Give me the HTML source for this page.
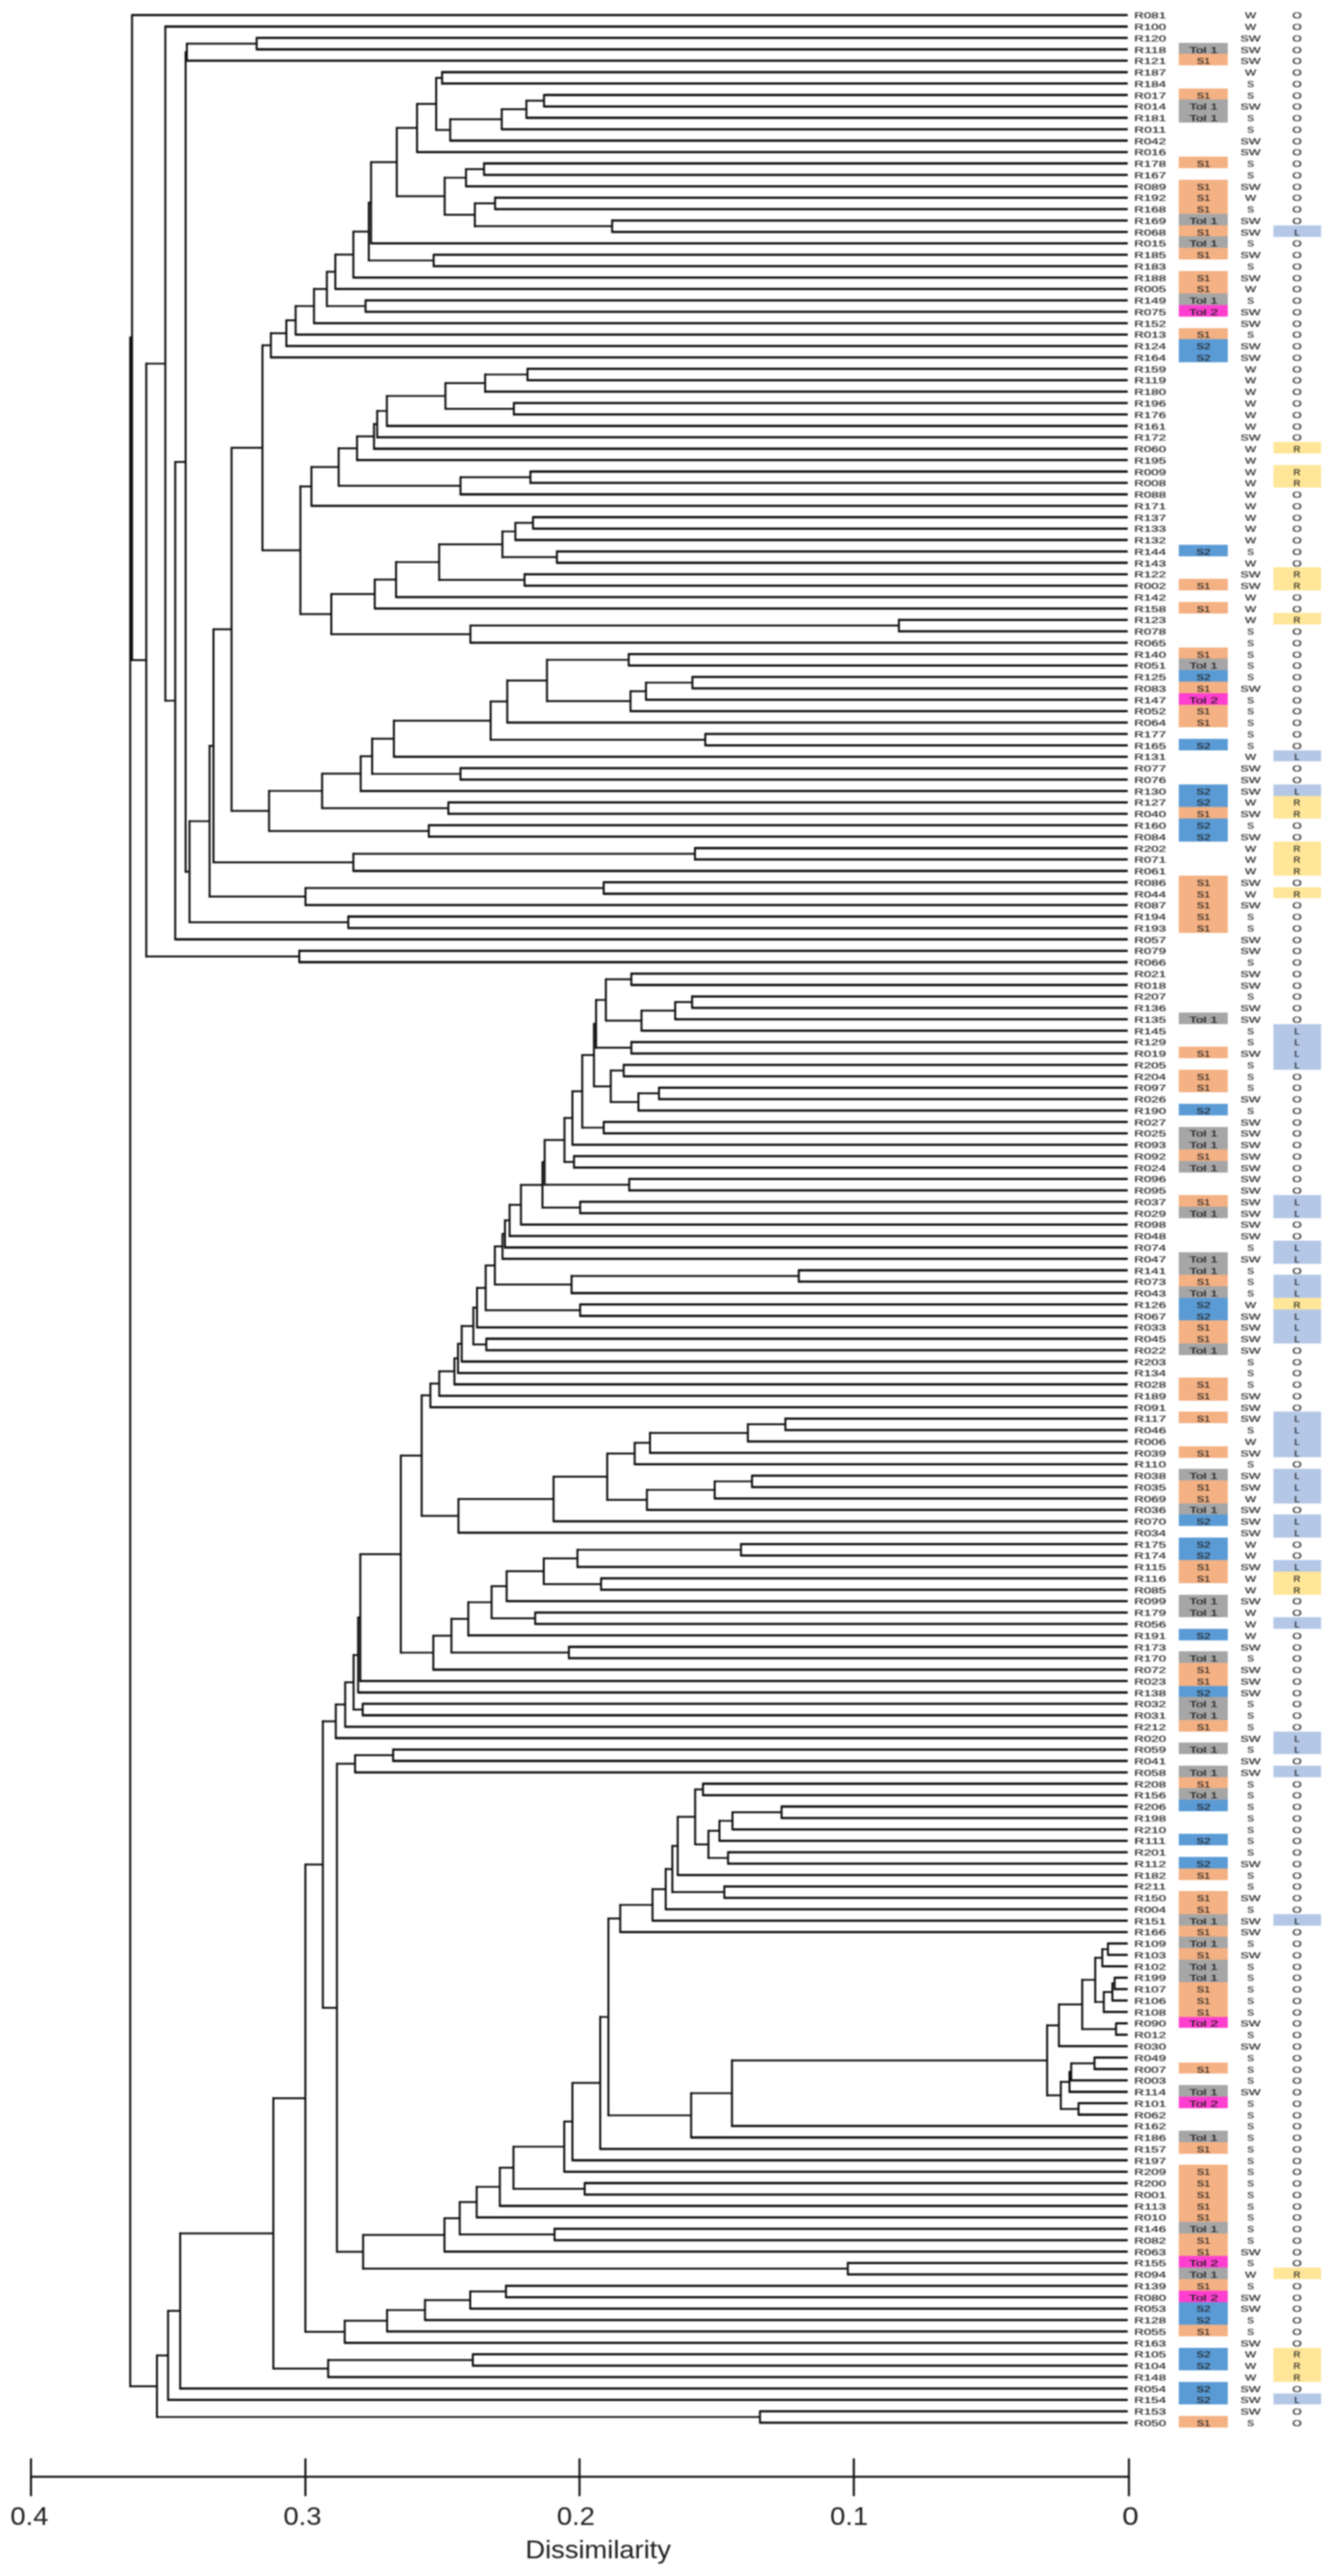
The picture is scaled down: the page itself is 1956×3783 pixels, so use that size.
<!DOCTYPE html>
<html lang="en"><head><meta charset="utf-8"><title>Dendrogram</title>
<style>html,body{margin:0;padding:0;background:#fff}svg{display:block;filter:blur(0.8px)}text{font-family:"Liberation Sans",sans-serif;fill:#1c1c1c}.t{font-size:13.2px;stroke:#1c1c1c;stroke-width:0.22px}.ax{font-size:36.5px;fill:#1e1e1e}</style></head><body>
<svg width="1956" height="3783" viewBox="0 0 1956 3783">
<rect width="1956" height="3783" fill="#fff"/>
<g shape-rendering="crispEdges"><rect x="1730.6" y="62.6" width="72.2" height="16.8" fill="#A6A6A6"/><rect x="1730.6" y="79.3" width="72.2" height="16.8" fill="#F4B183"/><rect x="1730.6" y="129.6" width="72.2" height="16.8" fill="#F4B183"/><rect x="1730.6" y="146.4" width="72.2" height="33.5" fill="#A6A6A6"/><rect x="1730.6" y="230.1" width="72.2" height="16.8" fill="#F4B183"/><rect x="1730.6" y="263.7" width="72.2" height="50.3" fill="#F4B183"/><rect x="1730.6" y="313.9" width="72.2" height="16.8" fill="#A6A6A6"/><rect x="1730.6" y="330.7" width="72.2" height="16.8" fill="#F4B183"/><rect x="1730.6" y="347.4" width="72.2" height="16.8" fill="#A6A6A6"/><rect x="1730.6" y="364.2" width="72.2" height="16.8" fill="#F4B183"/><rect x="1730.6" y="397.7" width="72.2" height="33.5" fill="#F4B183"/><rect x="1730.6" y="431.2" width="72.2" height="16.8" fill="#A6A6A6"/><rect x="1730.6" y="448.0" width="72.2" height="16.8" fill="#FF3FCF"/><rect x="1730.6" y="481.5" width="72.2" height="16.8" fill="#F4B183"/><rect x="1730.6" y="498.3" width="72.2" height="33.5" fill="#5B9BD5"/><rect x="1730.6" y="799.9" width="72.2" height="16.8" fill="#5B9BD5"/><rect x="1730.6" y="850.2" width="72.2" height="16.8" fill="#F4B183"/><rect x="1730.6" y="883.7" width="72.2" height="16.8" fill="#F4B183"/><rect x="1730.6" y="950.7" width="72.2" height="16.8" fill="#F4B183"/><rect x="1730.6" y="967.4" width="72.2" height="16.8" fill="#A6A6A6"/><rect x="1730.6" y="984.2" width="72.2" height="16.8" fill="#5B9BD5"/><rect x="1730.6" y="1001.0" width="72.2" height="16.8" fill="#F4B183"/><rect x="1730.6" y="1017.7" width="72.2" height="16.8" fill="#FF3FCF"/><rect x="1730.6" y="1034.5" width="72.2" height="33.5" fill="#F4B183"/><rect x="1730.6" y="1084.7" width="72.2" height="16.8" fill="#5B9BD5"/><rect x="1730.6" y="1151.8" width="72.2" height="33.5" fill="#5B9BD5"/><rect x="1730.6" y="1185.3" width="72.2" height="16.8" fill="#F4B183"/><rect x="1730.6" y="1202.0" width="72.2" height="33.5" fill="#5B9BD5"/><rect x="1730.6" y="1285.8" width="72.2" height="83.8" fill="#F4B183"/><rect x="1730.6" y="1486.9" width="72.2" height="16.8" fill="#A6A6A6"/><rect x="1730.6" y="1537.2" width="72.2" height="16.8" fill="#F4B183"/><rect x="1730.6" y="1570.7" width="72.2" height="33.5" fill="#F4B183"/><rect x="1730.6" y="1621.0" width="72.2" height="16.8" fill="#5B9BD5"/><rect x="1730.6" y="1654.5" width="72.2" height="33.5" fill="#A6A6A6"/><rect x="1730.6" y="1688.0" width="72.2" height="16.8" fill="#F4B183"/><rect x="1730.6" y="1704.8" width="72.2" height="16.8" fill="#A6A6A6"/><rect x="1730.6" y="1755.0" width="72.2" height="16.8" fill="#F4B183"/><rect x="1730.6" y="1771.8" width="72.2" height="16.8" fill="#A6A6A6"/><rect x="1730.6" y="1838.8" width="72.2" height="33.5" fill="#A6A6A6"/><rect x="1730.6" y="1872.3" width="72.2" height="16.8" fill="#F4B183"/><rect x="1730.6" y="1889.1" width="72.2" height="16.8" fill="#A6A6A6"/><rect x="1730.6" y="1905.8" width="72.2" height="33.5" fill="#5B9BD5"/><rect x="1730.6" y="1939.4" width="72.2" height="33.5" fill="#F4B183"/><rect x="1730.6" y="1972.9" width="72.2" height="16.8" fill="#A6A6A6"/><rect x="1730.6" y="2023.1" width="72.2" height="33.5" fill="#F4B183"/><rect x="1730.6" y="2073.4" width="72.2" height="16.8" fill="#F4B183"/><rect x="1730.6" y="2123.7" width="72.2" height="16.8" fill="#F4B183"/><rect x="1730.6" y="2157.2" width="72.2" height="16.8" fill="#A6A6A6"/><rect x="1730.6" y="2174.0" width="72.2" height="33.5" fill="#F4B183"/><rect x="1730.6" y="2207.5" width="72.2" height="16.8" fill="#A6A6A6"/><rect x="1730.6" y="2224.2" width="72.2" height="16.8" fill="#5B9BD5"/><rect x="1730.6" y="2257.7" width="72.2" height="33.5" fill="#5B9BD5"/><rect x="1730.6" y="2291.3" width="72.2" height="33.5" fill="#F4B183"/><rect x="1730.6" y="2341.5" width="72.2" height="33.5" fill="#A6A6A6"/><rect x="1730.6" y="2391.8" width="72.2" height="16.8" fill="#5B9BD5"/><rect x="1730.6" y="2425.3" width="72.2" height="16.8" fill="#A6A6A6"/><rect x="1730.6" y="2442.1" width="72.2" height="33.5" fill="#F4B183"/><rect x="1730.6" y="2475.6" width="72.2" height="16.8" fill="#5B9BD5"/><rect x="1730.6" y="2492.3" width="72.2" height="33.5" fill="#A6A6A6"/><rect x="1730.6" y="2525.8" width="72.2" height="16.8" fill="#F4B183"/><rect x="1730.6" y="2559.4" width="72.2" height="16.8" fill="#A6A6A6"/><rect x="1730.6" y="2592.9" width="72.2" height="16.8" fill="#A6A6A6"/><rect x="1730.6" y="2609.6" width="72.2" height="16.8" fill="#F4B183"/><rect x="1730.6" y="2626.4" width="72.2" height="16.8" fill="#A6A6A6"/><rect x="1730.6" y="2643.1" width="72.2" height="16.8" fill="#5B9BD5"/><rect x="1730.6" y="2693.4" width="72.2" height="16.8" fill="#5B9BD5"/><rect x="1730.6" y="2726.9" width="72.2" height="16.8" fill="#5B9BD5"/><rect x="1730.6" y="2743.7" width="72.2" height="16.8" fill="#F4B183"/><rect x="1730.6" y="2777.2" width="72.2" height="33.5" fill="#F4B183"/><rect x="1730.6" y="2810.7" width="72.2" height="16.8" fill="#A6A6A6"/><rect x="1730.6" y="2827.5" width="72.2" height="16.8" fill="#F4B183"/><rect x="1730.6" y="2844.2" width="72.2" height="16.8" fill="#A6A6A6"/><rect x="1730.6" y="2861.0" width="72.2" height="16.8" fill="#F4B183"/><rect x="1730.6" y="2877.7" width="72.2" height="33.5" fill="#A6A6A6"/><rect x="1730.6" y="2911.3" width="72.2" height="50.3" fill="#F4B183"/><rect x="1730.6" y="2961.5" width="72.2" height="16.8" fill="#FF3FCF"/><rect x="1730.6" y="3028.6" width="72.2" height="16.8" fill="#F4B183"/><rect x="1730.6" y="3062.1" width="72.2" height="16.8" fill="#A6A6A6"/><rect x="1730.6" y="3078.8" width="72.2" height="16.8" fill="#FF3FCF"/><rect x="1730.6" y="3129.1" width="72.2" height="16.8" fill="#A6A6A6"/><rect x="1730.6" y="3145.9" width="72.2" height="16.8" fill="#F4B183"/><rect x="1730.6" y="3179.4" width="72.2" height="83.8" fill="#F4B183"/><rect x="1730.6" y="3263.2" width="72.2" height="16.8" fill="#A6A6A6"/><rect x="1730.6" y="3279.9" width="72.2" height="33.5" fill="#F4B183"/><rect x="1730.6" y="3313.4" width="72.2" height="16.8" fill="#FF3FCF"/><rect x="1730.6" y="3330.2" width="72.2" height="16.8" fill="#A6A6A6"/><rect x="1730.6" y="3346.9" width="72.2" height="16.8" fill="#F4B183"/><rect x="1730.6" y="3363.7" width="72.2" height="16.8" fill="#FF3FCF"/><rect x="1730.6" y="3380.5" width="72.2" height="33.5" fill="#5B9BD5"/><rect x="1730.6" y="3414.0" width="72.2" height="16.8" fill="#F4B183"/><rect x="1730.6" y="3447.5" width="72.2" height="33.5" fill="#5B9BD5"/><rect x="1730.6" y="3497.8" width="72.2" height="33.5" fill="#5B9BD5"/><rect x="1730.6" y="3548.0" width="72.2" height="16.8" fill="#F4B183"/><rect x="1869.7" y="330.7" width="70.7" height="16.8" fill="#B4C7E7"/><rect x="1869.7" y="649.1" width="70.7" height="16.8" fill="#FFE699"/><rect x="1869.7" y="682.6" width="70.7" height="33.5" fill="#FFE699"/><rect x="1869.7" y="833.4" width="70.7" height="33.5" fill="#FFE699"/><rect x="1869.7" y="900.4" width="70.7" height="16.8" fill="#FFE699"/><rect x="1869.7" y="1101.5" width="70.7" height="16.8" fill="#B4C7E7"/><rect x="1869.7" y="1151.8" width="70.7" height="16.8" fill="#B4C7E7"/><rect x="1869.7" y="1168.5" width="70.7" height="33.5" fill="#FFE699"/><rect x="1869.7" y="1235.6" width="70.7" height="50.3" fill="#FFE699"/><rect x="1869.7" y="1302.6" width="70.7" height="16.8" fill="#FFE699"/><rect x="1869.7" y="1503.7" width="70.7" height="67.0" fill="#B4C7E7"/><rect x="1869.7" y="1755.0" width="70.7" height="33.5" fill="#B4C7E7"/><rect x="1869.7" y="1822.1" width="70.7" height="33.5" fill="#B4C7E7"/><rect x="1869.7" y="1872.3" width="70.7" height="33.5" fill="#B4C7E7"/><rect x="1869.7" y="1905.8" width="70.7" height="16.8" fill="#FFE699"/><rect x="1869.7" y="1922.6" width="70.7" height="50.3" fill="#B4C7E7"/><rect x="1869.7" y="2073.4" width="70.7" height="67.0" fill="#B4C7E7"/><rect x="1869.7" y="2157.2" width="70.7" height="50.3" fill="#B4C7E7"/><rect x="1869.7" y="2224.2" width="70.7" height="33.5" fill="#B4C7E7"/><rect x="1869.7" y="2291.3" width="70.7" height="16.8" fill="#B4C7E7"/><rect x="1869.7" y="2308.0" width="70.7" height="33.5" fill="#FFE699"/><rect x="1869.7" y="2375.0" width="70.7" height="16.8" fill="#B4C7E7"/><rect x="1869.7" y="2542.6" width="70.7" height="33.5" fill="#B4C7E7"/><rect x="1869.7" y="2592.9" width="70.7" height="16.8" fill="#B4C7E7"/><rect x="1869.7" y="2810.7" width="70.7" height="16.8" fill="#B4C7E7"/><rect x="1869.7" y="3330.2" width="70.7" height="16.8" fill="#FFE699"/><rect x="1869.7" y="3447.5" width="70.7" height="50.3" fill="#FFE699"/><rect x="1869.7" y="3514.5" width="70.7" height="16.8" fill="#B4C7E7"/></g>
<path d="M376.9 55.7H1656.0M376.9 72.5H1656.0M274.4 89.2H1656.0M649.2 106.0H1656.0M649.2 122.7H1656.0M798.9 139.5H1656.0M798.9 156.3H1656.0M773.0 173.0H1656.0M736.8 189.8H1656.0M661.1 206.5H1656.0M612.4 223.3H1656.0M710.8 240.0H1656.0M710.8 256.8H1656.0M684.3 273.6H1656.0M727.0 290.3H1656.0M727.0 307.1H1656.0M898.9 323.8H1656.0M898.9 340.6H1656.0M544.9 357.3H1656.0M636.8 374.1H1656.0M636.8 390.9H1656.0M518.9 407.6H1656.0M492.4 424.4H1656.0M536.8 441.1H1656.0M536.8 457.9H1656.0M461.1 474.6H1656.0M434.1 491.4H1656.0M420.5 508.2H1656.0M397.8 524.9H1656.0M774.6 541.7H1656.0M774.6 558.4H1656.0M712.4 575.2H1656.0M754.6 591.9H1656.0M754.6 608.7H1656.0M568.1 625.5H1656.0M553.9 642.2H1656.0M549.2 659.0H1656.0M524.3 675.7H1656.0M778.9 692.5H1656.0M778.9 709.2H1656.0M676.2 726.0H1656.0M457.3 742.8H1656.0M782.7 759.5H1656.0M782.7 776.3H1656.0M756.8 793.0H1656.0M817.8 809.8H1656.0M817.8 826.5H1656.0M770.3 843.3H1656.0M770.3 860.1H1656.0M581.6 876.8H1656.0M550.3 893.6H1656.0M1320.0 910.3H1656.0M1320.0 927.1H1656.0M690.8 943.8H1656.0M923.2 960.6H1656.0M923.2 977.3H1656.0M1016.8 994.1H1656.0M1016.8 1010.9H1656.0M948.6 1027.6H1656.0M925.9 1044.4H1656.0M744.9 1061.1H1656.0M1035.7 1077.9H1656.0M1035.7 1094.6H1656.0M578.4 1111.4H1656.0M676.2 1128.2H1656.0M676.2 1144.9H1656.0M529.7 1161.7H1656.0M658.4 1178.4H1656.0M658.4 1195.2H1656.0M629.7 1211.9H1656.0M629.7 1228.7H1656.0M1020.5 1245.5H1656.0M1020.5 1262.2H1656.0M518.9 1279.0H1656.0M886.5 1295.7H1656.0M886.5 1312.5H1656.0M448.6 1329.2H1656.0M511.4 1346.0H1656.0M511.4 1362.8H1656.0M257.3 1379.5H1656.0M242.8 39.0H1656.0M439.5 1396.3H1656.0M439.5 1413.0H1656.0M193.9 22.2H1656.0M927.1 1429.8H1656.0M927.1 1446.5H1656.0M1016.3 1463.3H1656.0M1016.3 1480.1H1656.0M991.5 1496.8H1656.0M942.0 1513.6H1656.0M927.1 1530.3H1656.0M927.1 1547.1H1656.0M915.9 1563.8H1656.0M915.9 1580.6H1656.0M967.7 1597.4H1656.0M967.7 1614.1H1656.0M937.5 1630.9H1656.0M886.6 1647.6H1656.0M886.6 1664.4H1656.0M840.6 1681.1H1656.0M842.9 1697.9H1656.0M842.9 1714.7H1656.0M924.0 1731.4H1656.0M924.0 1748.2H1656.0M851.9 1764.9H1656.0M851.9 1781.7H1656.0M765.0 1798.4H1656.0M748.3 1815.2H1656.0M741.5 1832.0H1656.0M737.9 1848.7H1656.0M1173.0 1865.5H1656.0M1173.0 1882.2H1656.0M839.3 1899.0H1656.0M851.9 1915.7H1656.0M851.9 1932.5H1656.0M700.5 1949.3H1656.0M714.1 1966.0H1656.0M714.1 1982.8H1656.0M678.0 1999.5H1656.0M672.6 2016.3H1656.0M667.3 2033.0H1656.0M645.0 2049.8H1656.0M632.0 2066.6H1656.0M1153.3 2083.3H1656.0M1153.3 2100.1H1656.0M1098.2 2116.8H1656.0M954.5 2133.6H1656.0M932.0 2150.3H1656.0M1104.3 2167.1H1656.0M1104.3 2183.9H1656.0M1049.5 2200.6H1656.0M950.0 2217.4H1656.0M812.9 2234.1H1656.0M673.2 2250.9H1656.0M1088.1 2267.6H1656.0M1088.1 2284.4H1656.0M848.0 2301.2H1656.0M882.7 2317.9H1656.0M882.7 2334.7H1656.0M744.0 2351.4H1656.0M785.9 2368.2H1656.0M785.9 2384.9H1656.0M687.7 2401.7H1656.0M835.4 2418.5H1656.0M835.4 2435.2H1656.0M636.3 2452.0H1656.0M529.1 2468.7H1656.0M525.9 2485.5H1656.0M532.6 2502.2H1656.0M532.6 2519.0H1656.0M506.9 2535.8H1656.0M493.1 2552.5H1656.0M577.3 2569.3H1656.0M577.3 2586.0H1656.0M521.4 2602.8H1656.0M1032.3 2619.5H1656.0M1032.3 2636.3H1656.0M1147.7 2653.0H1656.0M1147.7 2669.8H1656.0M1075.6 2686.6H1656.0M1056.5 2703.3H1656.0M1069.1 2720.1H1656.0M1069.1 2736.8H1656.0M995.2 2753.6H1656.0M1063.7 2770.3H1656.0M1063.7 2787.1H1656.0M977.6 2803.9H1656.0M958.2 2820.6H1656.0M910.8 2837.4H1656.0M1627.0 2854.1H1656.0M1627.0 2870.9H1656.0M1618.7 2887.6H1656.0M1636.8 2904.4H1656.0M1636.8 2921.2H1656.0M1633.5 2937.9H1656.0M1620.9 2954.7H1656.0M1638.9 2971.4H1656.0M1638.9 2988.2H1656.0M1555.0 3004.9H1656.0M1607.2 3021.7H1656.0M1607.2 3038.5H1656.0M1573.0 3055.2H1656.0M1570.5 3072.0H1656.0M1583.8 3088.7H1656.0M1583.8 3105.5H1656.0M1074.9 3122.2H1656.0M1014.9 3139.0H1656.0M881.4 3155.8H1656.0M840.6 3172.5H1656.0M828.6 3189.3H1656.0M858.6 3206.0H1656.0M858.6 3222.8H1656.0M734.0 3239.5H1656.0M700.0 3256.3H1656.0M814.3 3273.1H1656.0M814.3 3289.8H1656.0M652.7 3306.6H1656.0M1245.0 3323.3H1656.0M1245.0 3340.1H1656.0M743.0 3356.8H1656.0M743.0 3373.6H1656.0M690.5 3390.4H1656.0M624.1 3407.1H1656.0M568.4 3423.9H1656.0M506.2 3440.6H1656.0M694.3 3457.4H1656.0M694.3 3474.1H1656.0M481.9 3490.9H1656.0M264.6 3507.7H1656.0M246.8 3524.4H1656.0M1116.0 3541.2H1656.0M1116.0 3557.9H1656.0" fill="none" stroke="#0c0c0c" stroke-width="3.3" stroke-linecap="butt"/>
<path d="M274.4 64.1H376.9M773.0 147.9H798.9M736.8 160.4H773.0M661.1 175.1H736.8M640.5 114.4H649.2M640.5 190.8H661.1M612.4 152.6H640.5M684.3 248.4H710.8M697.3 298.7H727.0M697.3 332.2H898.9M653.0 261.0H684.3M653.0 315.4H697.3M582.7 187.9H612.4M582.7 288.2H653.0M544.9 238.1H582.7M541.6 297.7H544.9M541.6 382.5H636.8M518.9 340.1H541.6M492.4 373.9H518.9M480.0 399.1H492.4M480.0 449.5H536.8M461.1 424.3H480.0M434.1 449.5H461.1M420.5 470.4H434.1M397.8 489.3H420.5M712.4 550.0H774.6M654.1 562.6H712.4M654.1 600.3H754.6M568.1 581.5H654.1M553.9 603.5H568.1M549.2 622.8H553.9M524.3 640.9H549.2M676.2 700.9H778.9M497.3 658.3H524.3M497.3 713.4H676.2M457.3 685.9H497.3M756.8 767.9H782.7M737.8 780.5H756.8M737.8 818.2H817.8M644.9 799.3H737.8M644.9 851.7H770.3M581.6 825.5H644.9M550.3 851.1H581.6M690.8 918.7H1320.0M486.5 872.4H550.3M486.5 931.3H690.8M441.1 714.3H457.3M441.1 901.8H486.5M385.4 507.1H397.8M385.4 808.1H441.1M948.6 1002.5H1016.8M925.9 1015.1H948.6M803.2 969.0H923.2M803.2 1029.7H925.9M744.9 999.3H803.2M720.5 1030.2H744.9M720.5 1086.3H1035.7M578.4 1058.3H720.5M546.5 1084.8H578.4M546.5 1136.5H676.2M529.7 1110.7H546.5M473.0 1136.2H529.7M473.0 1186.8H658.4M395.1 1161.5H473.0M395.1 1220.3H629.7M340.0 657.6H385.4M340.0 1190.9H395.1M518.9 1253.8H1020.5M313.5 924.2H340.0M313.5 1266.4H518.9M448.6 1304.1H886.5M307.8 1095.3H313.5M307.8 1316.7H448.6M278.3 1206.0H307.8M278.3 1354.4H511.4M272.6 76.7H274.4M272.6 1280.2H278.3M257.3 678.4H272.6M242.8 1029.0H257.3M214.8 534.0H242.8M214.8 1404.7H439.5M193.9 969.3H214.8M991.5 1471.7H1016.3M942.0 1484.2H991.5M889.7 1438.2H927.1M889.7 1498.9H942.0M875.3 1468.5H889.7M875.3 1538.7H927.1M937.5 1605.7H967.7M896.9 1572.2H915.9M896.9 1618.3H937.5M872.2 1503.6H875.3M872.2 1595.3H896.9M855.0 1549.4H872.2M855.0 1656.0H886.6M840.6 1602.7H855.0M828.9 1641.9H840.6M828.9 1706.3H842.9M799.8 1674.1H828.9M799.8 1739.8H924.0M796.6 1706.9H799.8M796.6 1773.3H851.9M765.0 1740.1H796.6M748.3 1769.3H765.0M741.5 1792.2H748.3M737.9 1812.1H741.5M839.3 1873.8H1173.0M726.7 1830.4H737.9M726.7 1886.4H839.3M713.2 1858.4H726.7M713.2 1924.1H851.9M700.5 1891.3H713.2M695.1 1920.3H700.5M695.1 1974.4H714.1M678.0 1947.3H695.1M672.6 1973.4H678.0M667.3 1994.9H672.6M645.0 2013.9H667.3M632.0 2031.9H645.0M1098.2 2091.7H1153.3M954.5 2104.3H1098.2M932.0 2118.9H954.5M1049.5 2175.5H1104.3M950.0 2188.0H1049.5M891.7 2134.6H932.0M891.7 2202.7H950.0M812.9 2168.7H891.7M673.2 2201.4H812.9M619.2 2049.2H632.0M619.2 2226.1H673.2M848.0 2276.0H1088.1M798.5 2288.6H848.0M798.5 2326.3H882.7M744.0 2307.4H798.5M721.9 2329.4H744.0M721.9 2376.6H785.9M687.7 2353.0H721.9M662.9 2377.3H687.7M662.9 2426.8H835.4M636.3 2402.1H662.9M588.6 2137.7H619.2M588.6 2427.0H636.3M529.1 2282.4H588.6M525.9 2375.5H529.1M519.2 2430.5H525.9M519.2 2510.6H532.6M506.9 2470.6H519.2M493.1 2503.2H506.9M521.4 2577.6H577.3M1075.6 2661.4H1147.7M1056.5 2674.0H1075.6M1040.3 2688.7H1056.5M1040.3 2728.5H1069.1M1020.8 2627.9H1032.3M1020.8 2708.6H1040.3M995.2 2668.2H1020.8M987.3 2710.9H995.2M987.3 2778.7H1063.7M977.6 2744.8H987.3M958.2 2774.3H977.6M910.8 2797.5H958.2M1618.7 2862.5H1627.0M1633.5 2912.8H1636.8M1620.9 2925.4H1633.5M1608.3 2875.1H1618.7M1608.3 2940.0H1620.9M1589.2 2907.5H1608.3M1589.2 2979.8H1638.9M1555.0 2943.7H1589.2M1573.0 3030.1H1607.2M1570.5 3042.6H1573.0M1557.8 3057.3H1570.5M1557.8 3097.1H1583.8M1537.7 2974.3H1555.0M1537.7 3077.2H1557.8M1074.9 3025.8H1537.7M1014.9 3074.0H1074.9M893.4 2817.4H910.8M893.4 3106.5H1014.9M881.4 2962.0H893.4M840.6 3058.9H881.4M828.6 3115.7H840.6M754.0 3152.5H828.6M754.0 3214.4H858.6M734.0 3183.4H754.0M700.0 3211.5H734.0M675.1 3233.9H700.0M675.1 3281.4H814.3M652.7 3257.7H675.1M533.2 3282.1H652.7M533.2 3331.7H1245.0M494.8 2590.2H521.4M494.8 3306.9H533.2M474.1 2527.8H493.1M474.1 2948.6H494.8M690.5 3365.2H743.0M624.1 3377.8H690.5M568.4 3392.5H624.1M506.2 3408.2H568.4M448.4 2738.2H474.1M448.4 3424.4H506.2M481.9 3465.8H694.3M401.4 3081.3H448.4M401.4 3478.3H481.9M264.6 3279.8H401.4M246.8 3393.7H264.6M230.5 3459.1H246.8M230.5 3549.5H1116.0M191.2 495.8H193.9M191.2 3504.3H230.5" fill="none" stroke="#0c0c0c" stroke-width="2.7" stroke-linecap="butt"/>
<path d="M376.9 55.7V72.5M274.4 64.1V89.2M649.2 106.0V122.7M798.9 139.5V156.3M773.0 147.9V173.0M736.8 160.4V189.8M661.1 175.1V206.5M640.5 114.4V190.8M612.4 152.6V223.3M710.8 240.0V256.8M684.3 248.4V273.6M727.0 290.3V307.1M898.9 323.8V340.6M697.3 298.7V332.2M653.0 261.0V315.4M582.7 187.9V288.2M544.9 238.1V357.3M636.8 374.1V390.9M541.6 297.7V382.5M518.9 340.1V407.6M492.4 373.9V424.4M536.8 441.1V457.9M480.0 399.1V449.5M461.1 424.3V474.6M434.1 449.5V491.4M420.5 470.4V508.2M397.8 489.3V524.9M774.6 541.7V558.4M712.4 550.0V575.2M754.6 591.9V608.7M654.1 562.6V600.3M568.1 581.5V625.5M553.9 603.5V642.2M549.2 622.8V659.0M524.3 640.9V675.7M778.9 692.5V709.2M676.2 700.9V726.0M497.3 658.3V713.4M457.3 685.9V742.8M782.7 759.5V776.3M756.8 767.9V793.0M817.8 809.8V826.5M737.8 780.5V818.2M770.3 843.3V860.1M644.9 799.3V851.7M581.6 825.5V876.8M550.3 851.1V893.6M1320.0 910.3V927.1M690.8 918.7V943.8M486.5 872.4V931.3M441.1 714.3V901.8M385.4 507.1V808.1M923.2 960.6V977.3M1016.8 994.1V1010.9M948.6 1002.5V1027.6M925.9 1015.1V1044.4M803.2 969.0V1029.7M744.9 999.3V1061.1M1035.7 1077.9V1094.6M720.5 1030.2V1086.3M578.4 1058.3V1111.4M676.2 1128.2V1144.9M546.5 1084.8V1136.5M529.7 1110.7V1161.7M658.4 1178.4V1195.2M473.0 1136.2V1186.8M629.7 1211.9V1228.7M395.1 1161.5V1220.3M340.0 657.6V1190.9M1020.5 1245.5V1262.2M518.9 1253.8V1279.0M313.5 924.2V1266.4M886.5 1295.7V1312.5M448.6 1304.1V1329.2M307.8 1095.3V1316.7M511.4 1346.0V1362.8M278.3 1206.0V1354.4M272.6 76.7V1280.2M257.3 678.4V1379.5M242.8 39.0V1029.0M439.5 1396.3V1413.0M214.8 534.0V1404.7M193.9 22.2V969.3M927.1 1429.8V1446.5M1016.3 1463.3V1480.1M991.5 1471.7V1496.8M942.0 1484.2V1513.6M889.7 1438.2V1498.9M927.1 1530.3V1547.1M875.3 1468.5V1538.7M915.9 1563.8V1580.6M967.7 1597.4V1614.1M937.5 1605.7V1630.9M896.9 1572.2V1618.3M872.2 1503.6V1595.3M886.6 1647.6V1664.4M855.0 1549.4V1656.0M840.6 1602.7V1681.1M842.9 1697.9V1714.7M828.9 1641.9V1706.3M924.0 1731.4V1748.2M799.8 1674.1V1739.8M851.9 1764.9V1781.7M796.6 1706.9V1773.3M765.0 1740.1V1798.4M748.3 1769.3V1815.2M741.5 1792.2V1832.0M737.9 1812.1V1848.7M1173.0 1865.5V1882.2M839.3 1873.8V1899.0M726.7 1830.4V1886.4M851.9 1915.7V1932.5M713.2 1858.4V1924.1M700.5 1891.3V1949.3M714.1 1966.0V1982.8M695.1 1920.3V1974.4M678.0 1947.3V1999.5M672.6 1973.4V2016.3M667.3 1994.9V2033.0M645.0 2013.9V2049.8M632.0 2031.9V2066.6M1153.3 2083.3V2100.1M1098.2 2091.7V2116.8M954.5 2104.3V2133.6M932.0 2118.9V2150.3M1104.3 2167.1V2183.9M1049.5 2175.5V2200.6M950.0 2188.0V2217.4M891.7 2134.6V2202.7M812.9 2168.7V2234.1M673.2 2201.4V2250.9M619.2 2049.2V2226.1M1088.1 2267.6V2284.4M848.0 2276.0V2301.2M882.7 2317.9V2334.7M798.5 2288.6V2326.3M744.0 2307.4V2351.4M785.9 2368.2V2384.9M721.9 2329.4V2376.6M687.7 2353.0V2401.7M835.4 2418.5V2435.2M662.9 2377.3V2426.8M636.3 2402.1V2452.0M588.6 2137.7V2427.0M529.1 2282.4V2468.7M525.9 2375.5V2485.5M532.6 2502.2V2519.0M519.2 2430.5V2510.6M506.9 2470.6V2535.8M493.1 2503.2V2552.5M577.3 2569.3V2586.0M521.4 2577.6V2602.8M1032.3 2619.5V2636.3M1147.7 2653.0V2669.8M1075.6 2661.4V2686.6M1056.5 2674.0V2703.3M1069.1 2720.1V2736.8M1040.3 2688.7V2728.5M1020.8 2627.9V2708.6M995.2 2668.2V2753.6M1063.7 2770.3V2787.1M987.3 2710.9V2778.7M977.6 2744.8V2803.9M958.2 2774.3V2820.6M910.8 2797.5V2837.4M1627.0 2854.1V2870.9M1618.7 2862.5V2887.6M1636.8 2904.4V2921.2M1633.5 2912.8V2937.9M1620.9 2925.4V2954.7M1608.3 2875.1V2940.0M1638.9 2971.4V2988.2M1589.2 2907.5V2979.8M1555.0 2943.7V3004.9M1607.2 3021.7V3038.5M1573.0 3030.1V3055.2M1570.5 3042.6V3072.0M1583.8 3088.7V3105.5M1557.8 3057.3V3097.1M1537.7 2974.3V3077.2M1074.9 3025.8V3122.2M1014.9 3074.0V3139.0M893.4 2817.4V3106.5M881.4 2962.0V3155.8M840.6 3058.9V3172.5M828.6 3115.7V3189.3M858.6 3206.0V3222.8M754.0 3152.5V3214.4M734.0 3183.4V3239.5M700.0 3211.5V3256.3M814.3 3273.1V3289.8M675.1 3233.9V3281.4M652.7 3257.7V3306.6M1245.0 3323.3V3340.1M533.2 3282.1V3331.7M494.8 2590.2V3306.9M474.1 2527.8V2948.6M743.0 3356.8V3373.6M690.5 3365.2V3390.4M624.1 3377.8V3407.1M568.4 3392.5V3423.9M506.2 3408.2V3440.6M448.4 2738.2V3424.4M694.3 3457.4V3474.1M481.9 3465.8V3490.9M401.4 3081.3V3478.3M264.6 3279.8V3507.7M246.8 3393.7V3524.4M1116.0 3541.2V3557.9M230.5 3459.1V3549.5M191.2 495.8V3504.3" fill="none" stroke="#0c0c0c" stroke-width="2.9" stroke-linecap="square"/>
<path d="M44 3637.3H1659.3M45.5 3610.3V3665.7M448.5 3610.3V3665.7M851 3610.3V3665.7M1253.8 3610.3V3665.7M1657.8 3610.3V3665.7" fill="none" stroke="#141414" stroke-width="3.1"/>
<text class="ax" x="15.3" y="3707.6" textLength="55.8" lengthAdjust="spacingAndGlyphs">0.4</text>
<text class="ax" x="416.3" y="3707.6" textLength="55.8" lengthAdjust="spacingAndGlyphs">0.3</text>
<text class="ax" x="817.7" y="3707.6" textLength="55.8" lengthAdjust="spacingAndGlyphs">0.2</text>
<text class="ax" x="1219" y="3707.6" textLength="55.8" lengthAdjust="spacingAndGlyphs">0.1</text>
<text class="ax" x="1648.1" y="3707.6" textLength="24" lengthAdjust="spacingAndGlyphs">0</text>
<text class="ax" x="771.5" y="3757.4" textLength="213.8" lengthAdjust="spacingAndGlyphs">Dissimilarity</text>
<g class="t"><text x="1665.6" y="27.2" textLength="46.8" lengthAdjust="spacingAndGlyphs">R081</text>
<text x="1836.4" y="27.2" text-anchor="middle" textLength="16.4" lengthAdjust="spacingAndGlyphs">W</text>
<text x="1904.6" y="27.2" text-anchor="middle" textLength="13.8" lengthAdjust="spacingAndGlyphs">O</text>
<text x="1665.6" y="44.0" textLength="46.8" lengthAdjust="spacingAndGlyphs">R100</text>
<text x="1836.4" y="44.0" text-anchor="middle" textLength="16.4" lengthAdjust="spacingAndGlyphs">W</text>
<text x="1904.6" y="44.0" text-anchor="middle" textLength="13.8" lengthAdjust="spacingAndGlyphs">O</text>
<text x="1665.6" y="60.7" textLength="46.8" lengthAdjust="spacingAndGlyphs">R120</text>
<text x="1836.4" y="60.7" text-anchor="middle" textLength="29.7" lengthAdjust="spacingAndGlyphs">SW</text>
<text x="1904.6" y="60.7" text-anchor="middle" textLength="13.8" lengthAdjust="spacingAndGlyphs">O</text>
<text x="1665.6" y="77.5" textLength="46.8" lengthAdjust="spacingAndGlyphs">R118</text>
<text x="1767.3" y="77.5" text-anchor="middle" textLength="42" lengthAdjust="spacingAndGlyphs">Tol 1</text>
<text x="1836.4" y="77.5" text-anchor="middle" textLength="29.7" lengthAdjust="spacingAndGlyphs">SW</text>
<text x="1904.6" y="77.5" text-anchor="middle" textLength="13.8" lengthAdjust="spacingAndGlyphs">O</text>
<text x="1665.6" y="94.2" textLength="46.8" lengthAdjust="spacingAndGlyphs">R121</text>
<text x="1767.3" y="94.2" text-anchor="middle" textLength="19.7" lengthAdjust="spacingAndGlyphs">S1</text>
<text x="1836.4" y="94.2" text-anchor="middle" textLength="29.7" lengthAdjust="spacingAndGlyphs">SW</text>
<text x="1904.6" y="94.2" text-anchor="middle" textLength="13.8" lengthAdjust="spacingAndGlyphs">O</text>
<text x="1665.6" y="111.0" textLength="46.8" lengthAdjust="spacingAndGlyphs">R187</text>
<text x="1836.4" y="111.0" text-anchor="middle" textLength="16.4" lengthAdjust="spacingAndGlyphs">W</text>
<text x="1904.6" y="111.0" text-anchor="middle" textLength="13.8" lengthAdjust="spacingAndGlyphs">O</text>
<text x="1665.6" y="127.7" textLength="46.8" lengthAdjust="spacingAndGlyphs">R184</text>
<text x="1836.4" y="127.7" text-anchor="middle" textLength="10" lengthAdjust="spacingAndGlyphs">S</text>
<text x="1904.6" y="127.7" text-anchor="middle" textLength="13.8" lengthAdjust="spacingAndGlyphs">O</text>
<text x="1665.6" y="144.5" textLength="46.8" lengthAdjust="spacingAndGlyphs">R017</text>
<text x="1767.3" y="144.5" text-anchor="middle" textLength="19.7" lengthAdjust="spacingAndGlyphs">S1</text>
<text x="1836.4" y="144.5" text-anchor="middle" textLength="10" lengthAdjust="spacingAndGlyphs">S</text>
<text x="1904.6" y="144.5" text-anchor="middle" textLength="13.8" lengthAdjust="spacingAndGlyphs">O</text>
<text x="1665.6" y="161.3" textLength="46.8" lengthAdjust="spacingAndGlyphs">R014</text>
<text x="1767.3" y="161.3" text-anchor="middle" textLength="42" lengthAdjust="spacingAndGlyphs">Tol 1</text>
<text x="1836.4" y="161.3" text-anchor="middle" textLength="29.7" lengthAdjust="spacingAndGlyphs">SW</text>
<text x="1904.6" y="161.3" text-anchor="middle" textLength="13.8" lengthAdjust="spacingAndGlyphs">O</text>
<text x="1665.6" y="178.0" textLength="46.8" lengthAdjust="spacingAndGlyphs">R181</text>
<text x="1767.3" y="178.0" text-anchor="middle" textLength="42" lengthAdjust="spacingAndGlyphs">Tol 1</text>
<text x="1836.4" y="178.0" text-anchor="middle" textLength="10" lengthAdjust="spacingAndGlyphs">S</text>
<text x="1904.6" y="178.0" text-anchor="middle" textLength="13.8" lengthAdjust="spacingAndGlyphs">O</text>
<text x="1665.6" y="194.8" textLength="46.8" lengthAdjust="spacingAndGlyphs">R011</text>
<text x="1836.4" y="194.8" text-anchor="middle" textLength="10" lengthAdjust="spacingAndGlyphs">S</text>
<text x="1904.6" y="194.8" text-anchor="middle" textLength="13.8" lengthAdjust="spacingAndGlyphs">O</text>
<text x="1665.6" y="211.5" textLength="46.8" lengthAdjust="spacingAndGlyphs">R042</text>
<text x="1836.4" y="211.5" text-anchor="middle" textLength="29.7" lengthAdjust="spacingAndGlyphs">SW</text>
<text x="1904.6" y="211.5" text-anchor="middle" textLength="13.8" lengthAdjust="spacingAndGlyphs">O</text>
<text x="1665.6" y="228.3" textLength="46.8" lengthAdjust="spacingAndGlyphs">R016</text>
<text x="1836.4" y="228.3" text-anchor="middle" textLength="29.7" lengthAdjust="spacingAndGlyphs">SW</text>
<text x="1904.6" y="228.3" text-anchor="middle" textLength="13.8" lengthAdjust="spacingAndGlyphs">O</text>
<text x="1665.6" y="245.0" textLength="46.8" lengthAdjust="spacingAndGlyphs">R178</text>
<text x="1767.3" y="245.0" text-anchor="middle" textLength="19.7" lengthAdjust="spacingAndGlyphs">S1</text>
<text x="1836.4" y="245.0" text-anchor="middle" textLength="10" lengthAdjust="spacingAndGlyphs">S</text>
<text x="1904.6" y="245.0" text-anchor="middle" textLength="13.8" lengthAdjust="spacingAndGlyphs">O</text>
<text x="1665.6" y="261.8" textLength="46.8" lengthAdjust="spacingAndGlyphs">R167</text>
<text x="1836.4" y="261.8" text-anchor="middle" textLength="10" lengthAdjust="spacingAndGlyphs">S</text>
<text x="1904.6" y="261.8" text-anchor="middle" textLength="13.8" lengthAdjust="spacingAndGlyphs">O</text>
<text x="1665.6" y="278.6" textLength="46.8" lengthAdjust="spacingAndGlyphs">R089</text>
<text x="1767.3" y="278.6" text-anchor="middle" textLength="19.7" lengthAdjust="spacingAndGlyphs">S1</text>
<text x="1836.4" y="278.6" text-anchor="middle" textLength="29.7" lengthAdjust="spacingAndGlyphs">SW</text>
<text x="1904.6" y="278.6" text-anchor="middle" textLength="13.8" lengthAdjust="spacingAndGlyphs">O</text>
<text x="1665.6" y="295.3" textLength="46.8" lengthAdjust="spacingAndGlyphs">R192</text>
<text x="1767.3" y="295.3" text-anchor="middle" textLength="19.7" lengthAdjust="spacingAndGlyphs">S1</text>
<text x="1836.4" y="295.3" text-anchor="middle" textLength="16.4" lengthAdjust="spacingAndGlyphs">W</text>
<text x="1904.6" y="295.3" text-anchor="middle" textLength="13.8" lengthAdjust="spacingAndGlyphs">O</text>
<text x="1665.6" y="312.1" textLength="46.8" lengthAdjust="spacingAndGlyphs">R168</text>
<text x="1767.3" y="312.1" text-anchor="middle" textLength="19.7" lengthAdjust="spacingAndGlyphs">S1</text>
<text x="1836.4" y="312.1" text-anchor="middle" textLength="10" lengthAdjust="spacingAndGlyphs">S</text>
<text x="1904.6" y="312.1" text-anchor="middle" textLength="13.8" lengthAdjust="spacingAndGlyphs">O</text>
<text x="1665.6" y="328.8" textLength="46.8" lengthAdjust="spacingAndGlyphs">R169</text>
<text x="1767.3" y="328.8" text-anchor="middle" textLength="42" lengthAdjust="spacingAndGlyphs">Tol 1</text>
<text x="1836.4" y="328.8" text-anchor="middle" textLength="29.7" lengthAdjust="spacingAndGlyphs">SW</text>
<text x="1904.6" y="328.8" text-anchor="middle" textLength="13.8" lengthAdjust="spacingAndGlyphs">O</text>
<text x="1665.6" y="345.6" textLength="46.8" lengthAdjust="spacingAndGlyphs">R068</text>
<text x="1767.3" y="345.6" text-anchor="middle" textLength="19.7" lengthAdjust="spacingAndGlyphs">S1</text>
<text x="1836.4" y="345.6" text-anchor="middle" textLength="29.7" lengthAdjust="spacingAndGlyphs">SW</text>
<text x="1904.6" y="345.6" text-anchor="middle" textLength="7.6" lengthAdjust="spacingAndGlyphs">L</text>
<text x="1665.6" y="362.3" textLength="46.8" lengthAdjust="spacingAndGlyphs">R015</text>
<text x="1767.3" y="362.3" text-anchor="middle" textLength="42" lengthAdjust="spacingAndGlyphs">Tol 1</text>
<text x="1836.4" y="362.3" text-anchor="middle" textLength="10" lengthAdjust="spacingAndGlyphs">S</text>
<text x="1904.6" y="362.3" text-anchor="middle" textLength="13.8" lengthAdjust="spacingAndGlyphs">O</text>
<text x="1665.6" y="379.1" textLength="46.8" lengthAdjust="spacingAndGlyphs">R185</text>
<text x="1767.3" y="379.1" text-anchor="middle" textLength="19.7" lengthAdjust="spacingAndGlyphs">S1</text>
<text x="1836.4" y="379.1" text-anchor="middle" textLength="29.7" lengthAdjust="spacingAndGlyphs">SW</text>
<text x="1904.6" y="379.1" text-anchor="middle" textLength="13.8" lengthAdjust="spacingAndGlyphs">O</text>
<text x="1665.6" y="395.9" textLength="46.8" lengthAdjust="spacingAndGlyphs">R183</text>
<text x="1836.4" y="395.9" text-anchor="middle" textLength="10" lengthAdjust="spacingAndGlyphs">S</text>
<text x="1904.6" y="395.9" text-anchor="middle" textLength="13.8" lengthAdjust="spacingAndGlyphs">O</text>
<text x="1665.6" y="412.6" textLength="46.8" lengthAdjust="spacingAndGlyphs">R188</text>
<text x="1767.3" y="412.6" text-anchor="middle" textLength="19.7" lengthAdjust="spacingAndGlyphs">S1</text>
<text x="1836.4" y="412.6" text-anchor="middle" textLength="29.7" lengthAdjust="spacingAndGlyphs">SW</text>
<text x="1904.6" y="412.6" text-anchor="middle" textLength="13.8" lengthAdjust="spacingAndGlyphs">O</text>
<text x="1665.6" y="429.4" textLength="46.8" lengthAdjust="spacingAndGlyphs">R005</text>
<text x="1767.3" y="429.4" text-anchor="middle" textLength="19.7" lengthAdjust="spacingAndGlyphs">S1</text>
<text x="1836.4" y="429.4" text-anchor="middle" textLength="16.4" lengthAdjust="spacingAndGlyphs">W</text>
<text x="1904.6" y="429.4" text-anchor="middle" textLength="13.8" lengthAdjust="spacingAndGlyphs">O</text>
<text x="1665.6" y="446.1" textLength="46.8" lengthAdjust="spacingAndGlyphs">R149</text>
<text x="1767.3" y="446.1" text-anchor="middle" textLength="42" lengthAdjust="spacingAndGlyphs">Tol 1</text>
<text x="1836.4" y="446.1" text-anchor="middle" textLength="10" lengthAdjust="spacingAndGlyphs">S</text>
<text x="1904.6" y="446.1" text-anchor="middle" textLength="13.8" lengthAdjust="spacingAndGlyphs">O</text>
<text x="1665.6" y="462.9" textLength="46.8" lengthAdjust="spacingAndGlyphs">R075</text>
<text x="1767.3" y="462.9" text-anchor="middle" textLength="43" lengthAdjust="spacingAndGlyphs">Tol 2</text>
<text x="1836.4" y="462.9" text-anchor="middle" textLength="29.7" lengthAdjust="spacingAndGlyphs">SW</text>
<text x="1904.6" y="462.9" text-anchor="middle" textLength="13.8" lengthAdjust="spacingAndGlyphs">O</text>
<text x="1665.6" y="479.6" textLength="46.8" lengthAdjust="spacingAndGlyphs">R152</text>
<text x="1836.4" y="479.6" text-anchor="middle" textLength="29.7" lengthAdjust="spacingAndGlyphs">SW</text>
<text x="1904.6" y="479.6" text-anchor="middle" textLength="13.8" lengthAdjust="spacingAndGlyphs">O</text>
<text x="1665.6" y="496.4" textLength="46.8" lengthAdjust="spacingAndGlyphs">R013</text>
<text x="1767.3" y="496.4" text-anchor="middle" textLength="19.7" lengthAdjust="spacingAndGlyphs">S1</text>
<text x="1836.4" y="496.4" text-anchor="middle" textLength="10" lengthAdjust="spacingAndGlyphs">S</text>
<text x="1904.6" y="496.4" text-anchor="middle" textLength="13.8" lengthAdjust="spacingAndGlyphs">O</text>
<text x="1665.6" y="513.2" textLength="46.8" lengthAdjust="spacingAndGlyphs">R124</text>
<text x="1767.3" y="513.2" text-anchor="middle" textLength="20.5" lengthAdjust="spacingAndGlyphs">S2</text>
<text x="1836.4" y="513.2" text-anchor="middle" textLength="29.7" lengthAdjust="spacingAndGlyphs">SW</text>
<text x="1904.6" y="513.2" text-anchor="middle" textLength="13.8" lengthAdjust="spacingAndGlyphs">O</text>
<text x="1665.6" y="529.9" textLength="46.8" lengthAdjust="spacingAndGlyphs">R164</text>
<text x="1767.3" y="529.9" text-anchor="middle" textLength="20.5" lengthAdjust="spacingAndGlyphs">S2</text>
<text x="1836.4" y="529.9" text-anchor="middle" textLength="29.7" lengthAdjust="spacingAndGlyphs">SW</text>
<text x="1904.6" y="529.9" text-anchor="middle" textLength="13.8" lengthAdjust="spacingAndGlyphs">O</text>
<text x="1665.6" y="546.7" textLength="46.8" lengthAdjust="spacingAndGlyphs">R159</text>
<text x="1836.4" y="546.7" text-anchor="middle" textLength="16.4" lengthAdjust="spacingAndGlyphs">W</text>
<text x="1904.6" y="546.7" text-anchor="middle" textLength="13.8" lengthAdjust="spacingAndGlyphs">O</text>
<text x="1665.6" y="563.4" textLength="46.8" lengthAdjust="spacingAndGlyphs">R119</text>
<text x="1836.4" y="563.4" text-anchor="middle" textLength="16.4" lengthAdjust="spacingAndGlyphs">W</text>
<text x="1904.6" y="563.4" text-anchor="middle" textLength="13.8" lengthAdjust="spacingAndGlyphs">O</text>
<text x="1665.6" y="580.2" textLength="46.8" lengthAdjust="spacingAndGlyphs">R180</text>
<text x="1836.4" y="580.2" text-anchor="middle" textLength="16.4" lengthAdjust="spacingAndGlyphs">W</text>
<text x="1904.6" y="580.2" text-anchor="middle" textLength="13.8" lengthAdjust="spacingAndGlyphs">O</text>
<text x="1665.6" y="596.9" textLength="46.8" lengthAdjust="spacingAndGlyphs">R196</text>
<text x="1836.4" y="596.9" text-anchor="middle" textLength="16.4" lengthAdjust="spacingAndGlyphs">W</text>
<text x="1904.6" y="596.9" text-anchor="middle" textLength="13.8" lengthAdjust="spacingAndGlyphs">O</text>
<text x="1665.6" y="613.7" textLength="46.8" lengthAdjust="spacingAndGlyphs">R176</text>
<text x="1836.4" y="613.7" text-anchor="middle" textLength="16.4" lengthAdjust="spacingAndGlyphs">W</text>
<text x="1904.6" y="613.7" text-anchor="middle" textLength="13.8" lengthAdjust="spacingAndGlyphs">O</text>
<text x="1665.6" y="630.5" textLength="46.8" lengthAdjust="spacingAndGlyphs">R161</text>
<text x="1836.4" y="630.5" text-anchor="middle" textLength="16.4" lengthAdjust="spacingAndGlyphs">W</text>
<text x="1904.6" y="630.5" text-anchor="middle" textLength="13.8" lengthAdjust="spacingAndGlyphs">O</text>
<text x="1665.6" y="647.2" textLength="46.8" lengthAdjust="spacingAndGlyphs">R172</text>
<text x="1836.4" y="647.2" text-anchor="middle" textLength="29.7" lengthAdjust="spacingAndGlyphs">SW</text>
<text x="1904.6" y="647.2" text-anchor="middle" textLength="13.8" lengthAdjust="spacingAndGlyphs">O</text>
<text x="1665.6" y="664.0" textLength="46.8" lengthAdjust="spacingAndGlyphs">R060</text>
<text x="1836.4" y="664.0" text-anchor="middle" textLength="16.4" lengthAdjust="spacingAndGlyphs">W</text>
<text x="1904.6" y="664.0" text-anchor="middle" textLength="10" lengthAdjust="spacingAndGlyphs">R</text>
<text x="1665.6" y="680.7" textLength="46.8" lengthAdjust="spacingAndGlyphs">R195</text>
<text x="1836.4" y="680.7" text-anchor="middle" textLength="16.4" lengthAdjust="spacingAndGlyphs">W</text>
<text x="1665.6" y="697.5" textLength="46.8" lengthAdjust="spacingAndGlyphs">R009</text>
<text x="1836.4" y="697.5" text-anchor="middle" textLength="16.4" lengthAdjust="spacingAndGlyphs">W</text>
<text x="1904.6" y="697.5" text-anchor="middle" textLength="10" lengthAdjust="spacingAndGlyphs">R</text>
<text x="1665.6" y="714.2" textLength="46.8" lengthAdjust="spacingAndGlyphs">R008</text>
<text x="1836.4" y="714.2" text-anchor="middle" textLength="16.4" lengthAdjust="spacingAndGlyphs">W</text>
<text x="1904.6" y="714.2" text-anchor="middle" textLength="10" lengthAdjust="spacingAndGlyphs">R</text>
<text x="1665.6" y="731.0" textLength="46.8" lengthAdjust="spacingAndGlyphs">R088</text>
<text x="1836.4" y="731.0" text-anchor="middle" textLength="16.4" lengthAdjust="spacingAndGlyphs">W</text>
<text x="1904.6" y="731.0" text-anchor="middle" textLength="13.8" lengthAdjust="spacingAndGlyphs">O</text>
<text x="1665.6" y="747.8" textLength="46.8" lengthAdjust="spacingAndGlyphs">R171</text>
<text x="1836.4" y="747.8" text-anchor="middle" textLength="16.4" lengthAdjust="spacingAndGlyphs">W</text>
<text x="1904.6" y="747.8" text-anchor="middle" textLength="13.8" lengthAdjust="spacingAndGlyphs">O</text>
<text x="1665.6" y="764.5" textLength="46.8" lengthAdjust="spacingAndGlyphs">R137</text>
<text x="1836.4" y="764.5" text-anchor="middle" textLength="16.4" lengthAdjust="spacingAndGlyphs">W</text>
<text x="1904.6" y="764.5" text-anchor="middle" textLength="13.8" lengthAdjust="spacingAndGlyphs">O</text>
<text x="1665.6" y="781.3" textLength="46.8" lengthAdjust="spacingAndGlyphs">R133</text>
<text x="1836.4" y="781.3" text-anchor="middle" textLength="16.4" lengthAdjust="spacingAndGlyphs">W</text>
<text x="1904.6" y="781.3" text-anchor="middle" textLength="13.8" lengthAdjust="spacingAndGlyphs">O</text>
<text x="1665.6" y="798.0" textLength="46.8" lengthAdjust="spacingAndGlyphs">R132</text>
<text x="1836.4" y="798.0" text-anchor="middle" textLength="16.4" lengthAdjust="spacingAndGlyphs">W</text>
<text x="1904.6" y="798.0" text-anchor="middle" textLength="13.8" lengthAdjust="spacingAndGlyphs">O</text>
<text x="1665.6" y="814.8" textLength="46.8" lengthAdjust="spacingAndGlyphs">R144</text>
<text x="1767.3" y="814.8" text-anchor="middle" textLength="20.5" lengthAdjust="spacingAndGlyphs">S2</text>
<text x="1836.4" y="814.8" text-anchor="middle" textLength="10" lengthAdjust="spacingAndGlyphs">S</text>
<text x="1904.6" y="814.8" text-anchor="middle" textLength="13.8" lengthAdjust="spacingAndGlyphs">O</text>
<text x="1665.6" y="831.5" textLength="46.8" lengthAdjust="spacingAndGlyphs">R143</text>
<text x="1836.4" y="831.5" text-anchor="middle" textLength="16.4" lengthAdjust="spacingAndGlyphs">W</text>
<text x="1904.6" y="831.5" text-anchor="middle" textLength="13.8" lengthAdjust="spacingAndGlyphs">O</text>
<text x="1665.6" y="848.3" textLength="46.8" lengthAdjust="spacingAndGlyphs">R122</text>
<text x="1836.4" y="848.3" text-anchor="middle" textLength="29.7" lengthAdjust="spacingAndGlyphs">SW</text>
<text x="1904.6" y="848.3" text-anchor="middle" textLength="10" lengthAdjust="spacingAndGlyphs">R</text>
<text x="1665.6" y="865.1" textLength="46.8" lengthAdjust="spacingAndGlyphs">R002</text>
<text x="1767.3" y="865.1" text-anchor="middle" textLength="19.7" lengthAdjust="spacingAndGlyphs">S1</text>
<text x="1836.4" y="865.1" text-anchor="middle" textLength="29.7" lengthAdjust="spacingAndGlyphs">SW</text>
<text x="1904.6" y="865.1" text-anchor="middle" textLength="10" lengthAdjust="spacingAndGlyphs">R</text>
<text x="1665.6" y="881.8" textLength="46.8" lengthAdjust="spacingAndGlyphs">R142</text>
<text x="1836.4" y="881.8" text-anchor="middle" textLength="16.4" lengthAdjust="spacingAndGlyphs">W</text>
<text x="1904.6" y="881.8" text-anchor="middle" textLength="13.8" lengthAdjust="spacingAndGlyphs">O</text>
<text x="1665.6" y="898.6" textLength="46.8" lengthAdjust="spacingAndGlyphs">R158</text>
<text x="1767.3" y="898.6" text-anchor="middle" textLength="19.7" lengthAdjust="spacingAndGlyphs">S1</text>
<text x="1836.4" y="898.6" text-anchor="middle" textLength="16.4" lengthAdjust="spacingAndGlyphs">W</text>
<text x="1904.6" y="898.6" text-anchor="middle" textLength="13.8" lengthAdjust="spacingAndGlyphs">O</text>
<text x="1665.6" y="915.3" textLength="46.8" lengthAdjust="spacingAndGlyphs">R123</text>
<text x="1836.4" y="915.3" text-anchor="middle" textLength="16.4" lengthAdjust="spacingAndGlyphs">W</text>
<text x="1904.6" y="915.3" text-anchor="middle" textLength="10" lengthAdjust="spacingAndGlyphs">R</text>
<text x="1665.6" y="932.1" textLength="46.8" lengthAdjust="spacingAndGlyphs">R078</text>
<text x="1836.4" y="932.1" text-anchor="middle" textLength="10" lengthAdjust="spacingAndGlyphs">S</text>
<text x="1904.6" y="932.1" text-anchor="middle" textLength="13.8" lengthAdjust="spacingAndGlyphs">O</text>
<text x="1665.6" y="948.8" textLength="46.8" lengthAdjust="spacingAndGlyphs">R065</text>
<text x="1836.4" y="948.8" text-anchor="middle" textLength="10" lengthAdjust="spacingAndGlyphs">S</text>
<text x="1904.6" y="948.8" text-anchor="middle" textLength="13.8" lengthAdjust="spacingAndGlyphs">O</text>
<text x="1665.6" y="965.6" textLength="46.8" lengthAdjust="spacingAndGlyphs">R140</text>
<text x="1767.3" y="965.6" text-anchor="middle" textLength="19.7" lengthAdjust="spacingAndGlyphs">S1</text>
<text x="1836.4" y="965.6" text-anchor="middle" textLength="10" lengthAdjust="spacingAndGlyphs">S</text>
<text x="1904.6" y="965.6" text-anchor="middle" textLength="13.8" lengthAdjust="spacingAndGlyphs">O</text>
<text x="1665.6" y="982.3" textLength="46.8" lengthAdjust="spacingAndGlyphs">R051</text>
<text x="1767.3" y="982.3" text-anchor="middle" textLength="42" lengthAdjust="spacingAndGlyphs">Tol 1</text>
<text x="1836.4" y="982.3" text-anchor="middle" textLength="10" lengthAdjust="spacingAndGlyphs">S</text>
<text x="1904.6" y="982.3" text-anchor="middle" textLength="13.8" lengthAdjust="spacingAndGlyphs">O</text>
<text x="1665.6" y="999.1" textLength="46.8" lengthAdjust="spacingAndGlyphs">R125</text>
<text x="1767.3" y="999.1" text-anchor="middle" textLength="20.5" lengthAdjust="spacingAndGlyphs">S2</text>
<text x="1836.4" y="999.1" text-anchor="middle" textLength="10" lengthAdjust="spacingAndGlyphs">S</text>
<text x="1904.6" y="999.1" text-anchor="middle" textLength="13.8" lengthAdjust="spacingAndGlyphs">O</text>
<text x="1665.6" y="1015.9" textLength="46.8" lengthAdjust="spacingAndGlyphs">R083</text>
<text x="1767.3" y="1015.9" text-anchor="middle" textLength="19.7" lengthAdjust="spacingAndGlyphs">S1</text>
<text x="1836.4" y="1015.9" text-anchor="middle" textLength="29.7" lengthAdjust="spacingAndGlyphs">SW</text>
<text x="1904.6" y="1015.9" text-anchor="middle" textLength="13.8" lengthAdjust="spacingAndGlyphs">O</text>
<text x="1665.6" y="1032.6" textLength="46.8" lengthAdjust="spacingAndGlyphs">R147</text>
<text x="1767.3" y="1032.6" text-anchor="middle" textLength="43" lengthAdjust="spacingAndGlyphs">Tol 2</text>
<text x="1836.4" y="1032.6" text-anchor="middle" textLength="10" lengthAdjust="spacingAndGlyphs">S</text>
<text x="1904.6" y="1032.6" text-anchor="middle" textLength="13.8" lengthAdjust="spacingAndGlyphs">O</text>
<text x="1665.6" y="1049.4" textLength="46.8" lengthAdjust="spacingAndGlyphs">R052</text>
<text x="1767.3" y="1049.4" text-anchor="middle" textLength="19.7" lengthAdjust="spacingAndGlyphs">S1</text>
<text x="1836.4" y="1049.4" text-anchor="middle" textLength="10" lengthAdjust="spacingAndGlyphs">S</text>
<text x="1904.6" y="1049.4" text-anchor="middle" textLength="13.8" lengthAdjust="spacingAndGlyphs">O</text>
<text x="1665.6" y="1066.1" textLength="46.8" lengthAdjust="spacingAndGlyphs">R064</text>
<text x="1767.3" y="1066.1" text-anchor="middle" textLength="19.7" lengthAdjust="spacingAndGlyphs">S1</text>
<text x="1836.4" y="1066.1" text-anchor="middle" textLength="10" lengthAdjust="spacingAndGlyphs">S</text>
<text x="1904.6" y="1066.1" text-anchor="middle" textLength="13.8" lengthAdjust="spacingAndGlyphs">O</text>
<text x="1665.6" y="1082.9" textLength="46.8" lengthAdjust="spacingAndGlyphs">R177</text>
<text x="1836.4" y="1082.9" text-anchor="middle" textLength="10" lengthAdjust="spacingAndGlyphs">S</text>
<text x="1904.6" y="1082.9" text-anchor="middle" textLength="13.8" lengthAdjust="spacingAndGlyphs">O</text>
<text x="1665.6" y="1099.6" textLength="46.8" lengthAdjust="spacingAndGlyphs">R165</text>
<text x="1767.3" y="1099.6" text-anchor="middle" textLength="20.5" lengthAdjust="spacingAndGlyphs">S2</text>
<text x="1836.4" y="1099.6" text-anchor="middle" textLength="10" lengthAdjust="spacingAndGlyphs">S</text>
<text x="1904.6" y="1099.6" text-anchor="middle" textLength="13.8" lengthAdjust="spacingAndGlyphs">O</text>
<text x="1665.6" y="1116.4" textLength="46.8" lengthAdjust="spacingAndGlyphs">R131</text>
<text x="1836.4" y="1116.4" text-anchor="middle" textLength="16.4" lengthAdjust="spacingAndGlyphs">W</text>
<text x="1904.6" y="1116.4" text-anchor="middle" textLength="7.6" lengthAdjust="spacingAndGlyphs">L</text>
<text x="1665.6" y="1133.2" textLength="46.8" lengthAdjust="spacingAndGlyphs">R077</text>
<text x="1836.4" y="1133.2" text-anchor="middle" textLength="29.7" lengthAdjust="spacingAndGlyphs">SW</text>
<text x="1904.6" y="1133.2" text-anchor="middle" textLength="13.8" lengthAdjust="spacingAndGlyphs">O</text>
<text x="1665.6" y="1149.9" textLength="46.8" lengthAdjust="spacingAndGlyphs">R076</text>
<text x="1836.4" y="1149.9" text-anchor="middle" textLength="29.7" lengthAdjust="spacingAndGlyphs">SW</text>
<text x="1904.6" y="1149.9" text-anchor="middle" textLength="13.8" lengthAdjust="spacingAndGlyphs">O</text>
<text x="1665.6" y="1166.7" textLength="46.8" lengthAdjust="spacingAndGlyphs">R130</text>
<text x="1767.3" y="1166.7" text-anchor="middle" textLength="20.5" lengthAdjust="spacingAndGlyphs">S2</text>
<text x="1836.4" y="1166.7" text-anchor="middle" textLength="29.7" lengthAdjust="spacingAndGlyphs">SW</text>
<text x="1904.6" y="1166.7" text-anchor="middle" textLength="7.6" lengthAdjust="spacingAndGlyphs">L</text>
<text x="1665.6" y="1183.4" textLength="46.8" lengthAdjust="spacingAndGlyphs">R127</text>
<text x="1767.3" y="1183.4" text-anchor="middle" textLength="20.5" lengthAdjust="spacingAndGlyphs">S2</text>
<text x="1836.4" y="1183.4" text-anchor="middle" textLength="16.4" lengthAdjust="spacingAndGlyphs">W</text>
<text x="1904.6" y="1183.4" text-anchor="middle" textLength="10" lengthAdjust="spacingAndGlyphs">R</text>
<text x="1665.6" y="1200.2" textLength="46.8" lengthAdjust="spacingAndGlyphs">R040</text>
<text x="1767.3" y="1200.2" text-anchor="middle" textLength="19.7" lengthAdjust="spacingAndGlyphs">S1</text>
<text x="1836.4" y="1200.2" text-anchor="middle" textLength="29.7" lengthAdjust="spacingAndGlyphs">SW</text>
<text x="1904.6" y="1200.2" text-anchor="middle" textLength="10" lengthAdjust="spacingAndGlyphs">R</text>
<text x="1665.6" y="1216.9" textLength="46.8" lengthAdjust="spacingAndGlyphs">R160</text>
<text x="1767.3" y="1216.9" text-anchor="middle" textLength="20.5" lengthAdjust="spacingAndGlyphs">S2</text>
<text x="1836.4" y="1216.9" text-anchor="middle" textLength="10" lengthAdjust="spacingAndGlyphs">S</text>
<text x="1904.6" y="1216.9" text-anchor="middle" textLength="13.8" lengthAdjust="spacingAndGlyphs">O</text>
<text x="1665.6" y="1233.7" textLength="46.8" lengthAdjust="spacingAndGlyphs">R084</text>
<text x="1767.3" y="1233.7" text-anchor="middle" textLength="20.5" lengthAdjust="spacingAndGlyphs">S2</text>
<text x="1836.4" y="1233.7" text-anchor="middle" textLength="29.7" lengthAdjust="spacingAndGlyphs">SW</text>
<text x="1904.6" y="1233.7" text-anchor="middle" textLength="13.8" lengthAdjust="spacingAndGlyphs">O</text>
<text x="1665.6" y="1250.5" textLength="46.8" lengthAdjust="spacingAndGlyphs">R202</text>
<text x="1836.4" y="1250.5" text-anchor="middle" textLength="16.4" lengthAdjust="spacingAndGlyphs">W</text>
<text x="1904.6" y="1250.5" text-anchor="middle" textLength="10" lengthAdjust="spacingAndGlyphs">R</text>
<text x="1665.6" y="1267.2" textLength="46.8" lengthAdjust="spacingAndGlyphs">R071</text>
<text x="1836.4" y="1267.2" text-anchor="middle" textLength="16.4" lengthAdjust="spacingAndGlyphs">W</text>
<text x="1904.6" y="1267.2" text-anchor="middle" textLength="10" lengthAdjust="spacingAndGlyphs">R</text>
<text x="1665.6" y="1284.0" textLength="46.8" lengthAdjust="spacingAndGlyphs">R061</text>
<text x="1836.4" y="1284.0" text-anchor="middle" textLength="16.4" lengthAdjust="spacingAndGlyphs">W</text>
<text x="1904.6" y="1284.0" text-anchor="middle" textLength="10" lengthAdjust="spacingAndGlyphs">R</text>
<text x="1665.6" y="1300.7" textLength="46.8" lengthAdjust="spacingAndGlyphs">R086</text>
<text x="1767.3" y="1300.7" text-anchor="middle" textLength="19.7" lengthAdjust="spacingAndGlyphs">S1</text>
<text x="1836.4" y="1300.7" text-anchor="middle" textLength="29.7" lengthAdjust="spacingAndGlyphs">SW</text>
<text x="1904.6" y="1300.7" text-anchor="middle" textLength="13.8" lengthAdjust="spacingAndGlyphs">O</text>
<text x="1665.6" y="1317.5" textLength="46.8" lengthAdjust="spacingAndGlyphs">R044</text>
<text x="1767.3" y="1317.5" text-anchor="middle" textLength="19.7" lengthAdjust="spacingAndGlyphs">S1</text>
<text x="1836.4" y="1317.5" text-anchor="middle" textLength="16.4" lengthAdjust="spacingAndGlyphs">W</text>
<text x="1904.6" y="1317.5" text-anchor="middle" textLength="10" lengthAdjust="spacingAndGlyphs">R</text>
<text x="1665.6" y="1334.2" textLength="46.8" lengthAdjust="spacingAndGlyphs">R087</text>
<text x="1767.3" y="1334.2" text-anchor="middle" textLength="19.7" lengthAdjust="spacingAndGlyphs">S1</text>
<text x="1836.4" y="1334.2" text-anchor="middle" textLength="29.7" lengthAdjust="spacingAndGlyphs">SW</text>
<text x="1904.6" y="1334.2" text-anchor="middle" textLength="13.8" lengthAdjust="spacingAndGlyphs">O</text>
<text x="1665.6" y="1351.0" textLength="46.8" lengthAdjust="spacingAndGlyphs">R194</text>
<text x="1767.3" y="1351.0" text-anchor="middle" textLength="19.7" lengthAdjust="spacingAndGlyphs">S1</text>
<text x="1836.4" y="1351.0" text-anchor="middle" textLength="10" lengthAdjust="spacingAndGlyphs">S</text>
<text x="1904.6" y="1351.0" text-anchor="middle" textLength="13.8" lengthAdjust="spacingAndGlyphs">O</text>
<text x="1665.6" y="1367.8" textLength="46.8" lengthAdjust="spacingAndGlyphs">R193</text>
<text x="1767.3" y="1367.8" text-anchor="middle" textLength="19.7" lengthAdjust="spacingAndGlyphs">S1</text>
<text x="1836.4" y="1367.8" text-anchor="middle" textLength="10" lengthAdjust="spacingAndGlyphs">S</text>
<text x="1904.6" y="1367.8" text-anchor="middle" textLength="13.8" lengthAdjust="spacingAndGlyphs">O</text>
<text x="1665.6" y="1384.5" textLength="46.8" lengthAdjust="spacingAndGlyphs">R057</text>
<text x="1836.4" y="1384.5" text-anchor="middle" textLength="29.7" lengthAdjust="spacingAndGlyphs">SW</text>
<text x="1904.6" y="1384.5" text-anchor="middle" textLength="13.8" lengthAdjust="spacingAndGlyphs">O</text>
<text x="1665.6" y="1401.3" textLength="46.8" lengthAdjust="spacingAndGlyphs">R079</text>
<text x="1836.4" y="1401.3" text-anchor="middle" textLength="29.7" lengthAdjust="spacingAndGlyphs">SW</text>
<text x="1904.6" y="1401.3" text-anchor="middle" textLength="13.8" lengthAdjust="spacingAndGlyphs">O</text>
<text x="1665.6" y="1418.0" textLength="46.8" lengthAdjust="spacingAndGlyphs">R066</text>
<text x="1836.4" y="1418.0" text-anchor="middle" textLength="10" lengthAdjust="spacingAndGlyphs">S</text>
<text x="1904.6" y="1418.0" text-anchor="middle" textLength="13.8" lengthAdjust="spacingAndGlyphs">O</text>
<text x="1665.6" y="1434.8" textLength="46.8" lengthAdjust="spacingAndGlyphs">R021</text>
<text x="1836.4" y="1434.8" text-anchor="middle" textLength="29.7" lengthAdjust="spacingAndGlyphs">SW</text>
<text x="1904.6" y="1434.8" text-anchor="middle" textLength="13.8" lengthAdjust="spacingAndGlyphs">O</text>
<text x="1665.6" y="1451.5" textLength="46.8" lengthAdjust="spacingAndGlyphs">R018</text>
<text x="1836.4" y="1451.5" text-anchor="middle" textLength="29.7" lengthAdjust="spacingAndGlyphs">SW</text>
<text x="1904.6" y="1451.5" text-anchor="middle" textLength="13.8" lengthAdjust="spacingAndGlyphs">O</text>
<text x="1665.6" y="1468.3" textLength="46.8" lengthAdjust="spacingAndGlyphs">R207</text>
<text x="1836.4" y="1468.3" text-anchor="middle" textLength="10" lengthAdjust="spacingAndGlyphs">S</text>
<text x="1904.6" y="1468.3" text-anchor="middle" textLength="13.8" lengthAdjust="spacingAndGlyphs">O</text>
<text x="1665.6" y="1485.1" textLength="46.8" lengthAdjust="spacingAndGlyphs">R136</text>
<text x="1836.4" y="1485.1" text-anchor="middle" textLength="29.7" lengthAdjust="spacingAndGlyphs">SW</text>
<text x="1904.6" y="1485.1" text-anchor="middle" textLength="13.8" lengthAdjust="spacingAndGlyphs">O</text>
<text x="1665.6" y="1501.8" textLength="46.8" lengthAdjust="spacingAndGlyphs">R135</text>
<text x="1767.3" y="1501.8" text-anchor="middle" textLength="42" lengthAdjust="spacingAndGlyphs">Tol 1</text>
<text x="1836.4" y="1501.8" text-anchor="middle" textLength="29.7" lengthAdjust="spacingAndGlyphs">SW</text>
<text x="1904.6" y="1501.8" text-anchor="middle" textLength="13.8" lengthAdjust="spacingAndGlyphs">O</text>
<text x="1665.6" y="1518.6" textLength="46.8" lengthAdjust="spacingAndGlyphs">R145</text>
<text x="1836.4" y="1518.6" text-anchor="middle" textLength="10" lengthAdjust="spacingAndGlyphs">S</text>
<text x="1904.6" y="1518.6" text-anchor="middle" textLength="7.6" lengthAdjust="spacingAndGlyphs">L</text>
<text x="1665.6" y="1535.3" textLength="46.8" lengthAdjust="spacingAndGlyphs">R129</text>
<text x="1836.4" y="1535.3" text-anchor="middle" textLength="10" lengthAdjust="spacingAndGlyphs">S</text>
<text x="1904.6" y="1535.3" text-anchor="middle" textLength="7.6" lengthAdjust="spacingAndGlyphs">L</text>
<text x="1665.6" y="1552.1" textLength="46.8" lengthAdjust="spacingAndGlyphs">R019</text>
<text x="1767.3" y="1552.1" text-anchor="middle" textLength="19.7" lengthAdjust="spacingAndGlyphs">S1</text>
<text x="1836.4" y="1552.1" text-anchor="middle" textLength="29.7" lengthAdjust="spacingAndGlyphs">SW</text>
<text x="1904.6" y="1552.1" text-anchor="middle" textLength="7.6" lengthAdjust="spacingAndGlyphs">L</text>
<text x="1665.6" y="1568.8" textLength="46.8" lengthAdjust="spacingAndGlyphs">R205</text>
<text x="1836.4" y="1568.8" text-anchor="middle" textLength="10" lengthAdjust="spacingAndGlyphs">S</text>
<text x="1904.6" y="1568.8" text-anchor="middle" textLength="7.6" lengthAdjust="spacingAndGlyphs">L</text>
<text x="1665.6" y="1585.6" textLength="46.8" lengthAdjust="spacingAndGlyphs">R204</text>
<text x="1767.3" y="1585.6" text-anchor="middle" textLength="19.7" lengthAdjust="spacingAndGlyphs">S1</text>
<text x="1836.4" y="1585.6" text-anchor="middle" textLength="10" lengthAdjust="spacingAndGlyphs">S</text>
<text x="1904.6" y="1585.6" text-anchor="middle" textLength="13.8" lengthAdjust="spacingAndGlyphs">O</text>
<text x="1665.6" y="1602.4" textLength="46.8" lengthAdjust="spacingAndGlyphs">R097</text>
<text x="1767.3" y="1602.4" text-anchor="middle" textLength="19.7" lengthAdjust="spacingAndGlyphs">S1</text>
<text x="1836.4" y="1602.4" text-anchor="middle" textLength="10" lengthAdjust="spacingAndGlyphs">S</text>
<text x="1904.6" y="1602.4" text-anchor="middle" textLength="13.8" lengthAdjust="spacingAndGlyphs">O</text>
<text x="1665.6" y="1619.1" textLength="46.8" lengthAdjust="spacingAndGlyphs">R026</text>
<text x="1836.4" y="1619.1" text-anchor="middle" textLength="29.7" lengthAdjust="spacingAndGlyphs">SW</text>
<text x="1904.6" y="1619.1" text-anchor="middle" textLength="13.8" lengthAdjust="spacingAndGlyphs">O</text>
<text x="1665.6" y="1635.9" textLength="46.8" lengthAdjust="spacingAndGlyphs">R190</text>
<text x="1767.3" y="1635.9" text-anchor="middle" textLength="20.5" lengthAdjust="spacingAndGlyphs">S2</text>
<text x="1836.4" y="1635.9" text-anchor="middle" textLength="10" lengthAdjust="spacingAndGlyphs">S</text>
<text x="1904.6" y="1635.9" text-anchor="middle" textLength="13.8" lengthAdjust="spacingAndGlyphs">O</text>
<text x="1665.6" y="1652.6" textLength="46.8" lengthAdjust="spacingAndGlyphs">R027</text>
<text x="1836.4" y="1652.6" text-anchor="middle" textLength="29.7" lengthAdjust="spacingAndGlyphs">SW</text>
<text x="1904.6" y="1652.6" text-anchor="middle" textLength="13.8" lengthAdjust="spacingAndGlyphs">O</text>
<text x="1665.6" y="1669.4" textLength="46.8" lengthAdjust="spacingAndGlyphs">R025</text>
<text x="1767.3" y="1669.4" text-anchor="middle" textLength="42" lengthAdjust="spacingAndGlyphs">Tol 1</text>
<text x="1836.4" y="1669.4" text-anchor="middle" textLength="29.7" lengthAdjust="spacingAndGlyphs">SW</text>
<text x="1904.6" y="1669.4" text-anchor="middle" textLength="13.8" lengthAdjust="spacingAndGlyphs">O</text>
<text x="1665.6" y="1686.1" textLength="46.8" lengthAdjust="spacingAndGlyphs">R093</text>
<text x="1767.3" y="1686.1" text-anchor="middle" textLength="42" lengthAdjust="spacingAndGlyphs">Tol 1</text>
<text x="1836.4" y="1686.1" text-anchor="middle" textLength="29.7" lengthAdjust="spacingAndGlyphs">SW</text>
<text x="1904.6" y="1686.1" text-anchor="middle" textLength="13.8" lengthAdjust="spacingAndGlyphs">O</text>
<text x="1665.6" y="1702.9" textLength="46.8" lengthAdjust="spacingAndGlyphs">R092</text>
<text x="1767.3" y="1702.9" text-anchor="middle" textLength="19.7" lengthAdjust="spacingAndGlyphs">S1</text>
<text x="1836.4" y="1702.9" text-anchor="middle" textLength="29.7" lengthAdjust="spacingAndGlyphs">SW</text>
<text x="1904.6" y="1702.9" text-anchor="middle" textLength="13.8" lengthAdjust="spacingAndGlyphs">O</text>
<text x="1665.6" y="1719.7" textLength="46.8" lengthAdjust="spacingAndGlyphs">R024</text>
<text x="1767.3" y="1719.7" text-anchor="middle" textLength="42" lengthAdjust="spacingAndGlyphs">Tol 1</text>
<text x="1836.4" y="1719.7" text-anchor="middle" textLength="29.7" lengthAdjust="spacingAndGlyphs">SW</text>
<text x="1904.6" y="1719.7" text-anchor="middle" textLength="13.8" lengthAdjust="spacingAndGlyphs">O</text>
<text x="1665.6" y="1736.4" textLength="46.8" lengthAdjust="spacingAndGlyphs">R096</text>
<text x="1836.4" y="1736.4" text-anchor="middle" textLength="29.7" lengthAdjust="spacingAndGlyphs">SW</text>
<text x="1904.6" y="1736.4" text-anchor="middle" textLength="13.8" lengthAdjust="spacingAndGlyphs">O</text>
<text x="1665.6" y="1753.2" textLength="46.8" lengthAdjust="spacingAndGlyphs">R095</text>
<text x="1836.4" y="1753.2" text-anchor="middle" textLength="29.7" lengthAdjust="spacingAndGlyphs">SW</text>
<text x="1904.6" y="1753.2" text-anchor="middle" textLength="13.8" lengthAdjust="spacingAndGlyphs">O</text>
<text x="1665.6" y="1769.9" textLength="46.8" lengthAdjust="spacingAndGlyphs">R037</text>
<text x="1767.3" y="1769.9" text-anchor="middle" textLength="19.7" lengthAdjust="spacingAndGlyphs">S1</text>
<text x="1836.4" y="1769.9" text-anchor="middle" textLength="29.7" lengthAdjust="spacingAndGlyphs">SW</text>
<text x="1904.6" y="1769.9" text-anchor="middle" textLength="7.6" lengthAdjust="spacingAndGlyphs">L</text>
<text x="1665.6" y="1786.7" textLength="46.8" lengthAdjust="spacingAndGlyphs">R029</text>
<text x="1767.3" y="1786.7" text-anchor="middle" textLength="42" lengthAdjust="spacingAndGlyphs">Tol 1</text>
<text x="1836.4" y="1786.7" text-anchor="middle" textLength="29.7" lengthAdjust="spacingAndGlyphs">SW</text>
<text x="1904.6" y="1786.7" text-anchor="middle" textLength="7.6" lengthAdjust="spacingAndGlyphs">L</text>
<text x="1665.6" y="1803.4" textLength="46.8" lengthAdjust="spacingAndGlyphs">R098</text>
<text x="1836.4" y="1803.4" text-anchor="middle" textLength="29.7" lengthAdjust="spacingAndGlyphs">SW</text>
<text x="1904.6" y="1803.4" text-anchor="middle" textLength="13.8" lengthAdjust="spacingAndGlyphs">O</text>
<text x="1665.6" y="1820.2" textLength="46.8" lengthAdjust="spacingAndGlyphs">R048</text>
<text x="1836.4" y="1820.2" text-anchor="middle" textLength="29.7" lengthAdjust="spacingAndGlyphs">SW</text>
<text x="1904.6" y="1820.2" text-anchor="middle" textLength="13.8" lengthAdjust="spacingAndGlyphs">O</text>
<text x="1665.6" y="1837.0" textLength="46.8" lengthAdjust="spacingAndGlyphs">R074</text>
<text x="1836.4" y="1837.0" text-anchor="middle" textLength="10" lengthAdjust="spacingAndGlyphs">S</text>
<text x="1904.6" y="1837.0" text-anchor="middle" textLength="7.6" lengthAdjust="spacingAndGlyphs">L</text>
<text x="1665.6" y="1853.7" textLength="46.8" lengthAdjust="spacingAndGlyphs">R047</text>
<text x="1767.3" y="1853.7" text-anchor="middle" textLength="42" lengthAdjust="spacingAndGlyphs">Tol 1</text>
<text x="1836.4" y="1853.7" text-anchor="middle" textLength="29.7" lengthAdjust="spacingAndGlyphs">SW</text>
<text x="1904.6" y="1853.7" text-anchor="middle" textLength="7.6" lengthAdjust="spacingAndGlyphs">L</text>
<text x="1665.6" y="1870.5" textLength="46.8" lengthAdjust="spacingAndGlyphs">R141</text>
<text x="1767.3" y="1870.5" text-anchor="middle" textLength="42" lengthAdjust="spacingAndGlyphs">Tol 1</text>
<text x="1836.4" y="1870.5" text-anchor="middle" textLength="10" lengthAdjust="spacingAndGlyphs">S</text>
<text x="1904.6" y="1870.5" text-anchor="middle" textLength="13.8" lengthAdjust="spacingAndGlyphs">O</text>
<text x="1665.6" y="1887.2" textLength="46.8" lengthAdjust="spacingAndGlyphs">R073</text>
<text x="1767.3" y="1887.2" text-anchor="middle" textLength="19.7" lengthAdjust="spacingAndGlyphs">S1</text>
<text x="1836.4" y="1887.2" text-anchor="middle" textLength="10" lengthAdjust="spacingAndGlyphs">S</text>
<text x="1904.6" y="1887.2" text-anchor="middle" textLength="7.6" lengthAdjust="spacingAndGlyphs">L</text>
<text x="1665.6" y="1904.0" textLength="46.8" lengthAdjust="spacingAndGlyphs">R043</text>
<text x="1767.3" y="1904.0" text-anchor="middle" textLength="42" lengthAdjust="spacingAndGlyphs">Tol 1</text>
<text x="1836.4" y="1904.0" text-anchor="middle" textLength="10" lengthAdjust="spacingAndGlyphs">S</text>
<text x="1904.6" y="1904.0" text-anchor="middle" textLength="7.6" lengthAdjust="spacingAndGlyphs">L</text>
<text x="1665.6" y="1920.7" textLength="46.8" lengthAdjust="spacingAndGlyphs">R126</text>
<text x="1767.3" y="1920.7" text-anchor="middle" textLength="20.5" lengthAdjust="spacingAndGlyphs">S2</text>
<text x="1836.4" y="1920.7" text-anchor="middle" textLength="16.4" lengthAdjust="spacingAndGlyphs">W</text>
<text x="1904.6" y="1920.7" text-anchor="middle" textLength="10" lengthAdjust="spacingAndGlyphs">R</text>
<text x="1665.6" y="1937.5" textLength="46.8" lengthAdjust="spacingAndGlyphs">R067</text>
<text x="1767.3" y="1937.5" text-anchor="middle" textLength="20.5" lengthAdjust="spacingAndGlyphs">S2</text>
<text x="1836.4" y="1937.5" text-anchor="middle" textLength="29.7" lengthAdjust="spacingAndGlyphs">SW</text>
<text x="1904.6" y="1937.5" text-anchor="middle" textLength="7.6" lengthAdjust="spacingAndGlyphs">L</text>
<text x="1665.6" y="1954.3" textLength="46.8" lengthAdjust="spacingAndGlyphs">R033</text>
<text x="1767.3" y="1954.3" text-anchor="middle" textLength="19.7" lengthAdjust="spacingAndGlyphs">S1</text>
<text x="1836.4" y="1954.3" text-anchor="middle" textLength="29.7" lengthAdjust="spacingAndGlyphs">SW</text>
<text x="1904.6" y="1954.3" text-anchor="middle" textLength="7.6" lengthAdjust="spacingAndGlyphs">L</text>
<text x="1665.6" y="1971.0" textLength="46.8" lengthAdjust="spacingAndGlyphs">R045</text>
<text x="1767.3" y="1971.0" text-anchor="middle" textLength="19.7" lengthAdjust="spacingAndGlyphs">S1</text>
<text x="1836.4" y="1971.0" text-anchor="middle" textLength="29.7" lengthAdjust="spacingAndGlyphs">SW</text>
<text x="1904.6" y="1971.0" text-anchor="middle" textLength="7.6" lengthAdjust="spacingAndGlyphs">L</text>
<text x="1665.6" y="1987.8" textLength="46.8" lengthAdjust="spacingAndGlyphs">R022</text>
<text x="1767.3" y="1987.8" text-anchor="middle" textLength="42" lengthAdjust="spacingAndGlyphs">Tol 1</text>
<text x="1836.4" y="1987.8" text-anchor="middle" textLength="29.7" lengthAdjust="spacingAndGlyphs">SW</text>
<text x="1904.6" y="1987.8" text-anchor="middle" textLength="13.8" lengthAdjust="spacingAndGlyphs">O</text>
<text x="1665.6" y="2004.5" textLength="46.8" lengthAdjust="spacingAndGlyphs">R203</text>
<text x="1836.4" y="2004.5" text-anchor="middle" textLength="10" lengthAdjust="spacingAndGlyphs">S</text>
<text x="1904.6" y="2004.5" text-anchor="middle" textLength="13.8" lengthAdjust="spacingAndGlyphs">O</text>
<text x="1665.6" y="2021.3" textLength="46.8" lengthAdjust="spacingAndGlyphs">R134</text>
<text x="1836.4" y="2021.3" text-anchor="middle" textLength="10" lengthAdjust="spacingAndGlyphs">S</text>
<text x="1904.6" y="2021.3" text-anchor="middle" textLength="13.8" lengthAdjust="spacingAndGlyphs">O</text>
<text x="1665.6" y="2038.0" textLength="46.8" lengthAdjust="spacingAndGlyphs">R028</text>
<text x="1767.3" y="2038.0" text-anchor="middle" textLength="19.7" lengthAdjust="spacingAndGlyphs">S1</text>
<text x="1836.4" y="2038.0" text-anchor="middle" textLength="10" lengthAdjust="spacingAndGlyphs">S</text>
<text x="1904.6" y="2038.0" text-anchor="middle" textLength="13.8" lengthAdjust="spacingAndGlyphs">O</text>
<text x="1665.6" y="2054.8" textLength="46.8" lengthAdjust="spacingAndGlyphs">R189</text>
<text x="1767.3" y="2054.8" text-anchor="middle" textLength="19.7" lengthAdjust="spacingAndGlyphs">S1</text>
<text x="1836.4" y="2054.8" text-anchor="middle" textLength="29.7" lengthAdjust="spacingAndGlyphs">SW</text>
<text x="1904.6" y="2054.8" text-anchor="middle" textLength="13.8" lengthAdjust="spacingAndGlyphs">O</text>
<text x="1665.6" y="2071.6" textLength="46.8" lengthAdjust="spacingAndGlyphs">R091</text>
<text x="1836.4" y="2071.6" text-anchor="middle" textLength="29.7" lengthAdjust="spacingAndGlyphs">SW</text>
<text x="1904.6" y="2071.6" text-anchor="middle" textLength="13.8" lengthAdjust="spacingAndGlyphs">O</text>
<text x="1665.6" y="2088.3" textLength="46.8" lengthAdjust="spacingAndGlyphs">R117</text>
<text x="1767.3" y="2088.3" text-anchor="middle" textLength="19.7" lengthAdjust="spacingAndGlyphs">S1</text>
<text x="1836.4" y="2088.3" text-anchor="middle" textLength="29.7" lengthAdjust="spacingAndGlyphs">SW</text>
<text x="1904.6" y="2088.3" text-anchor="middle" textLength="7.6" lengthAdjust="spacingAndGlyphs">L</text>
<text x="1665.6" y="2105.1" textLength="46.8" lengthAdjust="spacingAndGlyphs">R046</text>
<text x="1836.4" y="2105.1" text-anchor="middle" textLength="10" lengthAdjust="spacingAndGlyphs">S</text>
<text x="1904.6" y="2105.1" text-anchor="middle" textLength="7.6" lengthAdjust="spacingAndGlyphs">L</text>
<text x="1665.6" y="2121.8" textLength="46.8" lengthAdjust="spacingAndGlyphs">R006</text>
<text x="1836.4" y="2121.8" text-anchor="middle" textLength="16.4" lengthAdjust="spacingAndGlyphs">W</text>
<text x="1904.6" y="2121.8" text-anchor="middle" textLength="7.6" lengthAdjust="spacingAndGlyphs">L</text>
<text x="1665.6" y="2138.6" textLength="46.8" lengthAdjust="spacingAndGlyphs">R039</text>
<text x="1767.3" y="2138.6" text-anchor="middle" textLength="19.7" lengthAdjust="spacingAndGlyphs">S1</text>
<text x="1836.4" y="2138.6" text-anchor="middle" textLength="29.7" lengthAdjust="spacingAndGlyphs">SW</text>
<text x="1904.6" y="2138.6" text-anchor="middle" textLength="7.6" lengthAdjust="spacingAndGlyphs">L</text>
<text x="1665.6" y="2155.3" textLength="46.8" lengthAdjust="spacingAndGlyphs">R110</text>
<text x="1836.4" y="2155.3" text-anchor="middle" textLength="10" lengthAdjust="spacingAndGlyphs">S</text>
<text x="1904.6" y="2155.3" text-anchor="middle" textLength="13.8" lengthAdjust="spacingAndGlyphs">O</text>
<text x="1665.6" y="2172.1" textLength="46.8" lengthAdjust="spacingAndGlyphs">R038</text>
<text x="1767.3" y="2172.1" text-anchor="middle" textLength="42" lengthAdjust="spacingAndGlyphs">Tol 1</text>
<text x="1836.4" y="2172.1" text-anchor="middle" textLength="29.7" lengthAdjust="spacingAndGlyphs">SW</text>
<text x="1904.6" y="2172.1" text-anchor="middle" textLength="7.6" lengthAdjust="spacingAndGlyphs">L</text>
<text x="1665.6" y="2188.9" textLength="46.8" lengthAdjust="spacingAndGlyphs">R035</text>
<text x="1767.3" y="2188.9" text-anchor="middle" textLength="19.7" lengthAdjust="spacingAndGlyphs">S1</text>
<text x="1836.4" y="2188.9" text-anchor="middle" textLength="29.7" lengthAdjust="spacingAndGlyphs">SW</text>
<text x="1904.6" y="2188.9" text-anchor="middle" textLength="7.6" lengthAdjust="spacingAndGlyphs">L</text>
<text x="1665.6" y="2205.6" textLength="46.8" lengthAdjust="spacingAndGlyphs">R069</text>
<text x="1767.3" y="2205.6" text-anchor="middle" textLength="19.7" lengthAdjust="spacingAndGlyphs">S1</text>
<text x="1836.4" y="2205.6" text-anchor="middle" textLength="16.4" lengthAdjust="spacingAndGlyphs">W</text>
<text x="1904.6" y="2205.6" text-anchor="middle" textLength="7.6" lengthAdjust="spacingAndGlyphs">L</text>
<text x="1665.6" y="2222.4" textLength="46.8" lengthAdjust="spacingAndGlyphs">R036</text>
<text x="1767.3" y="2222.4" text-anchor="middle" textLength="42" lengthAdjust="spacingAndGlyphs">Tol 1</text>
<text x="1836.4" y="2222.4" text-anchor="middle" textLength="29.7" lengthAdjust="spacingAndGlyphs">SW</text>
<text x="1904.6" y="2222.4" text-anchor="middle" textLength="13.8" lengthAdjust="spacingAndGlyphs">O</text>
<text x="1665.6" y="2239.1" textLength="46.8" lengthAdjust="spacingAndGlyphs">R070</text>
<text x="1767.3" y="2239.1" text-anchor="middle" textLength="20.5" lengthAdjust="spacingAndGlyphs">S2</text>
<text x="1836.4" y="2239.1" text-anchor="middle" textLength="29.7" lengthAdjust="spacingAndGlyphs">SW</text>
<text x="1904.6" y="2239.1" text-anchor="middle" textLength="7.6" lengthAdjust="spacingAndGlyphs">L</text>
<text x="1665.6" y="2255.9" textLength="46.8" lengthAdjust="spacingAndGlyphs">R034</text>
<text x="1836.4" y="2255.9" text-anchor="middle" textLength="29.7" lengthAdjust="spacingAndGlyphs">SW</text>
<text x="1904.6" y="2255.9" text-anchor="middle" textLength="7.6" lengthAdjust="spacingAndGlyphs">L</text>
<text x="1665.6" y="2272.6" textLength="46.8" lengthAdjust="spacingAndGlyphs">R175</text>
<text x="1767.3" y="2272.6" text-anchor="middle" textLength="20.5" lengthAdjust="spacingAndGlyphs">S2</text>
<text x="1836.4" y="2272.6" text-anchor="middle" textLength="16.4" lengthAdjust="spacingAndGlyphs">W</text>
<text x="1904.6" y="2272.6" text-anchor="middle" textLength="13.8" lengthAdjust="spacingAndGlyphs">O</text>
<text x="1665.6" y="2289.4" textLength="46.8" lengthAdjust="spacingAndGlyphs">R174</text>
<text x="1767.3" y="2289.4" text-anchor="middle" textLength="20.5" lengthAdjust="spacingAndGlyphs">S2</text>
<text x="1836.4" y="2289.4" text-anchor="middle" textLength="16.4" lengthAdjust="spacingAndGlyphs">W</text>
<text x="1904.6" y="2289.4" text-anchor="middle" textLength="13.8" lengthAdjust="spacingAndGlyphs">O</text>
<text x="1665.6" y="2306.2" textLength="46.8" lengthAdjust="spacingAndGlyphs">R115</text>
<text x="1767.3" y="2306.2" text-anchor="middle" textLength="19.7" lengthAdjust="spacingAndGlyphs">S1</text>
<text x="1836.4" y="2306.2" text-anchor="middle" textLength="29.7" lengthAdjust="spacingAndGlyphs">SW</text>
<text x="1904.6" y="2306.2" text-anchor="middle" textLength="7.6" lengthAdjust="spacingAndGlyphs">L</text>
<text x="1665.6" y="2322.9" textLength="46.8" lengthAdjust="spacingAndGlyphs">R116</text>
<text x="1767.3" y="2322.9" text-anchor="middle" textLength="19.7" lengthAdjust="spacingAndGlyphs">S1</text>
<text x="1836.4" y="2322.9" text-anchor="middle" textLength="16.4" lengthAdjust="spacingAndGlyphs">W</text>
<text x="1904.6" y="2322.9" text-anchor="middle" textLength="10" lengthAdjust="spacingAndGlyphs">R</text>
<text x="1665.6" y="2339.7" textLength="46.8" lengthAdjust="spacingAndGlyphs">R085</text>
<text x="1836.4" y="2339.7" text-anchor="middle" textLength="16.4" lengthAdjust="spacingAndGlyphs">W</text>
<text x="1904.6" y="2339.7" text-anchor="middle" textLength="10" lengthAdjust="spacingAndGlyphs">R</text>
<text x="1665.6" y="2356.4" textLength="46.8" lengthAdjust="spacingAndGlyphs">R099</text>
<text x="1767.3" y="2356.4" text-anchor="middle" textLength="42" lengthAdjust="spacingAndGlyphs">Tol 1</text>
<text x="1836.4" y="2356.4" text-anchor="middle" textLength="29.7" lengthAdjust="spacingAndGlyphs">SW</text>
<text x="1904.6" y="2356.4" text-anchor="middle" textLength="13.8" lengthAdjust="spacingAndGlyphs">O</text>
<text x="1665.6" y="2373.2" textLength="46.8" lengthAdjust="spacingAndGlyphs">R179</text>
<text x="1767.3" y="2373.2" text-anchor="middle" textLength="42" lengthAdjust="spacingAndGlyphs">Tol 1</text>
<text x="1836.4" y="2373.2" text-anchor="middle" textLength="16.4" lengthAdjust="spacingAndGlyphs">W</text>
<text x="1904.6" y="2373.2" text-anchor="middle" textLength="13.8" lengthAdjust="spacingAndGlyphs">O</text>
<text x="1665.6" y="2389.9" textLength="46.8" lengthAdjust="spacingAndGlyphs">R056</text>
<text x="1836.4" y="2389.9" text-anchor="middle" textLength="16.4" lengthAdjust="spacingAndGlyphs">W</text>
<text x="1904.6" y="2389.9" text-anchor="middle" textLength="7.6" lengthAdjust="spacingAndGlyphs">L</text>
<text x="1665.6" y="2406.7" textLength="46.8" lengthAdjust="spacingAndGlyphs">R191</text>
<text x="1767.3" y="2406.7" text-anchor="middle" textLength="20.5" lengthAdjust="spacingAndGlyphs">S2</text>
<text x="1836.4" y="2406.7" text-anchor="middle" textLength="16.4" lengthAdjust="spacingAndGlyphs">W</text>
<text x="1904.6" y="2406.7" text-anchor="middle" textLength="13.8" lengthAdjust="spacingAndGlyphs">O</text>
<text x="1665.6" y="2423.5" textLength="46.8" lengthAdjust="spacingAndGlyphs">R173</text>
<text x="1836.4" y="2423.5" text-anchor="middle" textLength="29.7" lengthAdjust="spacingAndGlyphs">SW</text>
<text x="1904.6" y="2423.5" text-anchor="middle" textLength="13.8" lengthAdjust="spacingAndGlyphs">O</text>
<text x="1665.6" y="2440.2" textLength="46.8" lengthAdjust="spacingAndGlyphs">R170</text>
<text x="1767.3" y="2440.2" text-anchor="middle" textLength="42" lengthAdjust="spacingAndGlyphs">Tol 1</text>
<text x="1836.4" y="2440.2" text-anchor="middle" textLength="10" lengthAdjust="spacingAndGlyphs">S</text>
<text x="1904.6" y="2440.2" text-anchor="middle" textLength="13.8" lengthAdjust="spacingAndGlyphs">O</text>
<text x="1665.6" y="2457.0" textLength="46.8" lengthAdjust="spacingAndGlyphs">R072</text>
<text x="1767.3" y="2457.0" text-anchor="middle" textLength="19.7" lengthAdjust="spacingAndGlyphs">S1</text>
<text x="1836.4" y="2457.0" text-anchor="middle" textLength="29.7" lengthAdjust="spacingAndGlyphs">SW</text>
<text x="1904.6" y="2457.0" text-anchor="middle" textLength="13.8" lengthAdjust="spacingAndGlyphs">O</text>
<text x="1665.6" y="2473.7" textLength="46.8" lengthAdjust="spacingAndGlyphs">R023</text>
<text x="1767.3" y="2473.7" text-anchor="middle" textLength="19.7" lengthAdjust="spacingAndGlyphs">S1</text>
<text x="1836.4" y="2473.7" text-anchor="middle" textLength="29.7" lengthAdjust="spacingAndGlyphs">SW</text>
<text x="1904.6" y="2473.7" text-anchor="middle" textLength="13.8" lengthAdjust="spacingAndGlyphs">O</text>
<text x="1665.6" y="2490.5" textLength="46.8" lengthAdjust="spacingAndGlyphs">R138</text>
<text x="1767.3" y="2490.5" text-anchor="middle" textLength="20.5" lengthAdjust="spacingAndGlyphs">S2</text>
<text x="1836.4" y="2490.5" text-anchor="middle" textLength="29.7" lengthAdjust="spacingAndGlyphs">SW</text>
<text x="1904.6" y="2490.5" text-anchor="middle" textLength="13.8" lengthAdjust="spacingAndGlyphs">O</text>
<text x="1665.6" y="2507.2" textLength="46.8" lengthAdjust="spacingAndGlyphs">R032</text>
<text x="1767.3" y="2507.2" text-anchor="middle" textLength="42" lengthAdjust="spacingAndGlyphs">Tol 1</text>
<text x="1836.4" y="2507.2" text-anchor="middle" textLength="10" lengthAdjust="spacingAndGlyphs">S</text>
<text x="1904.6" y="2507.2" text-anchor="middle" textLength="13.8" lengthAdjust="spacingAndGlyphs">O</text>
<text x="1665.6" y="2524.0" textLength="46.8" lengthAdjust="spacingAndGlyphs">R031</text>
<text x="1767.3" y="2524.0" text-anchor="middle" textLength="42" lengthAdjust="spacingAndGlyphs">Tol 1</text>
<text x="1836.4" y="2524.0" text-anchor="middle" textLength="10" lengthAdjust="spacingAndGlyphs">S</text>
<text x="1904.6" y="2524.0" text-anchor="middle" textLength="13.8" lengthAdjust="spacingAndGlyphs">O</text>
<text x="1665.6" y="2540.8" textLength="46.8" lengthAdjust="spacingAndGlyphs">R212</text>
<text x="1767.3" y="2540.8" text-anchor="middle" textLength="19.7" lengthAdjust="spacingAndGlyphs">S1</text>
<text x="1836.4" y="2540.8" text-anchor="middle" textLength="10" lengthAdjust="spacingAndGlyphs">S</text>
<text x="1904.6" y="2540.8" text-anchor="middle" textLength="13.8" lengthAdjust="spacingAndGlyphs">O</text>
<text x="1665.6" y="2557.5" textLength="46.8" lengthAdjust="spacingAndGlyphs">R020</text>
<text x="1836.4" y="2557.5" text-anchor="middle" textLength="29.7" lengthAdjust="spacingAndGlyphs">SW</text>
<text x="1904.6" y="2557.5" text-anchor="middle" textLength="7.6" lengthAdjust="spacingAndGlyphs">L</text>
<text x="1665.6" y="2574.3" textLength="46.8" lengthAdjust="spacingAndGlyphs">R059</text>
<text x="1767.3" y="2574.3" text-anchor="middle" textLength="42" lengthAdjust="spacingAndGlyphs">Tol 1</text>
<text x="1836.4" y="2574.3" text-anchor="middle" textLength="10" lengthAdjust="spacingAndGlyphs">S</text>
<text x="1904.6" y="2574.3" text-anchor="middle" textLength="7.6" lengthAdjust="spacingAndGlyphs">L</text>
<text x="1665.6" y="2591.0" textLength="46.8" lengthAdjust="spacingAndGlyphs">R041</text>
<text x="1836.4" y="2591.0" text-anchor="middle" textLength="29.7" lengthAdjust="spacingAndGlyphs">SW</text>
<text x="1904.6" y="2591.0" text-anchor="middle" textLength="13.8" lengthAdjust="spacingAndGlyphs">O</text>
<text x="1665.6" y="2607.8" textLength="46.8" lengthAdjust="spacingAndGlyphs">R058</text>
<text x="1767.3" y="2607.8" text-anchor="middle" textLength="42" lengthAdjust="spacingAndGlyphs">Tol 1</text>
<text x="1836.4" y="2607.8" text-anchor="middle" textLength="29.7" lengthAdjust="spacingAndGlyphs">SW</text>
<text x="1904.6" y="2607.8" text-anchor="middle" textLength="7.6" lengthAdjust="spacingAndGlyphs">L</text>
<text x="1665.6" y="2624.5" textLength="46.8" lengthAdjust="spacingAndGlyphs">R208</text>
<text x="1767.3" y="2624.5" text-anchor="middle" textLength="19.7" lengthAdjust="spacingAndGlyphs">S1</text>
<text x="1836.4" y="2624.5" text-anchor="middle" textLength="10" lengthAdjust="spacingAndGlyphs">S</text>
<text x="1904.6" y="2624.5" text-anchor="middle" textLength="13.8" lengthAdjust="spacingAndGlyphs">O</text>
<text x="1665.6" y="2641.3" textLength="46.8" lengthAdjust="spacingAndGlyphs">R156</text>
<text x="1767.3" y="2641.3" text-anchor="middle" textLength="42" lengthAdjust="spacingAndGlyphs">Tol 1</text>
<text x="1836.4" y="2641.3" text-anchor="middle" textLength="10" lengthAdjust="spacingAndGlyphs">S</text>
<text x="1904.6" y="2641.3" text-anchor="middle" textLength="13.8" lengthAdjust="spacingAndGlyphs">O</text>
<text x="1665.6" y="2658.0" textLength="46.8" lengthAdjust="spacingAndGlyphs">R206</text>
<text x="1767.3" y="2658.0" text-anchor="middle" textLength="20.5" lengthAdjust="spacingAndGlyphs">S2</text>
<text x="1836.4" y="2658.0" text-anchor="middle" textLength="10" lengthAdjust="spacingAndGlyphs">S</text>
<text x="1904.6" y="2658.0" text-anchor="middle" textLength="13.8" lengthAdjust="spacingAndGlyphs">O</text>
<text x="1665.6" y="2674.8" textLength="46.8" lengthAdjust="spacingAndGlyphs">R198</text>
<text x="1836.4" y="2674.8" text-anchor="middle" textLength="10" lengthAdjust="spacingAndGlyphs">S</text>
<text x="1904.6" y="2674.8" text-anchor="middle" textLength="13.8" lengthAdjust="spacingAndGlyphs">O</text>
<text x="1665.6" y="2691.6" textLength="46.8" lengthAdjust="spacingAndGlyphs">R210</text>
<text x="1836.4" y="2691.6" text-anchor="middle" textLength="10" lengthAdjust="spacingAndGlyphs">S</text>
<text x="1904.6" y="2691.6" text-anchor="middle" textLength="13.8" lengthAdjust="spacingAndGlyphs">O</text>
<text x="1665.6" y="2708.3" textLength="46.8" lengthAdjust="spacingAndGlyphs">R111</text>
<text x="1767.3" y="2708.3" text-anchor="middle" textLength="20.5" lengthAdjust="spacingAndGlyphs">S2</text>
<text x="1836.4" y="2708.3" text-anchor="middle" textLength="10" lengthAdjust="spacingAndGlyphs">S</text>
<text x="1904.6" y="2708.3" text-anchor="middle" textLength="13.8" lengthAdjust="spacingAndGlyphs">O</text>
<text x="1665.6" y="2725.1" textLength="46.8" lengthAdjust="spacingAndGlyphs">R201</text>
<text x="1836.4" y="2725.1" text-anchor="middle" textLength="10" lengthAdjust="spacingAndGlyphs">S</text>
<text x="1904.6" y="2725.1" text-anchor="middle" textLength="13.8" lengthAdjust="spacingAndGlyphs">O</text>
<text x="1665.6" y="2741.8" textLength="46.8" lengthAdjust="spacingAndGlyphs">R112</text>
<text x="1767.3" y="2741.8" text-anchor="middle" textLength="20.5" lengthAdjust="spacingAndGlyphs">S2</text>
<text x="1836.4" y="2741.8" text-anchor="middle" textLength="29.7" lengthAdjust="spacingAndGlyphs">SW</text>
<text x="1904.6" y="2741.8" text-anchor="middle" textLength="13.8" lengthAdjust="spacingAndGlyphs">O</text>
<text x="1665.6" y="2758.6" textLength="46.8" lengthAdjust="spacingAndGlyphs">R182</text>
<text x="1767.3" y="2758.6" text-anchor="middle" textLength="19.7" lengthAdjust="spacingAndGlyphs">S1</text>
<text x="1836.4" y="2758.6" text-anchor="middle" textLength="10" lengthAdjust="spacingAndGlyphs">S</text>
<text x="1904.6" y="2758.6" text-anchor="middle" textLength="13.8" lengthAdjust="spacingAndGlyphs">O</text>
<text x="1665.6" y="2775.3" textLength="46.8" lengthAdjust="spacingAndGlyphs">R211</text>
<text x="1836.4" y="2775.3" text-anchor="middle" textLength="10" lengthAdjust="spacingAndGlyphs">S</text>
<text x="1904.6" y="2775.3" text-anchor="middle" textLength="13.8" lengthAdjust="spacingAndGlyphs">O</text>
<text x="1665.6" y="2792.1" textLength="46.8" lengthAdjust="spacingAndGlyphs">R150</text>
<text x="1767.3" y="2792.1" text-anchor="middle" textLength="19.7" lengthAdjust="spacingAndGlyphs">S1</text>
<text x="1836.4" y="2792.1" text-anchor="middle" textLength="29.7" lengthAdjust="spacingAndGlyphs">SW</text>
<text x="1904.6" y="2792.1" text-anchor="middle" textLength="13.8" lengthAdjust="spacingAndGlyphs">O</text>
<text x="1665.6" y="2808.9" textLength="46.8" lengthAdjust="spacingAndGlyphs">R004</text>
<text x="1767.3" y="2808.9" text-anchor="middle" textLength="19.7" lengthAdjust="spacingAndGlyphs">S1</text>
<text x="1836.4" y="2808.9" text-anchor="middle" textLength="10" lengthAdjust="spacingAndGlyphs">S</text>
<text x="1904.6" y="2808.9" text-anchor="middle" textLength="13.8" lengthAdjust="spacingAndGlyphs">O</text>
<text x="1665.6" y="2825.6" textLength="46.8" lengthAdjust="spacingAndGlyphs">R151</text>
<text x="1767.3" y="2825.6" text-anchor="middle" textLength="42" lengthAdjust="spacingAndGlyphs">Tol 1</text>
<text x="1836.4" y="2825.6" text-anchor="middle" textLength="29.7" lengthAdjust="spacingAndGlyphs">SW</text>
<text x="1904.6" y="2825.6" text-anchor="middle" textLength="7.6" lengthAdjust="spacingAndGlyphs">L</text>
<text x="1665.6" y="2842.4" textLength="46.8" lengthAdjust="spacingAndGlyphs">R166</text>
<text x="1767.3" y="2842.4" text-anchor="middle" textLength="19.7" lengthAdjust="spacingAndGlyphs">S1</text>
<text x="1836.4" y="2842.4" text-anchor="middle" textLength="29.7" lengthAdjust="spacingAndGlyphs">SW</text>
<text x="1904.6" y="2842.4" text-anchor="middle" textLength="13.8" lengthAdjust="spacingAndGlyphs">O</text>
<text x="1665.6" y="2859.1" textLength="46.8" lengthAdjust="spacingAndGlyphs">R109</text>
<text x="1767.3" y="2859.1" text-anchor="middle" textLength="42" lengthAdjust="spacingAndGlyphs">Tol 1</text>
<text x="1836.4" y="2859.1" text-anchor="middle" textLength="10" lengthAdjust="spacingAndGlyphs">S</text>
<text x="1904.6" y="2859.1" text-anchor="middle" textLength="13.8" lengthAdjust="spacingAndGlyphs">O</text>
<text x="1665.6" y="2875.9" textLength="46.8" lengthAdjust="spacingAndGlyphs">R103</text>
<text x="1767.3" y="2875.9" text-anchor="middle" textLength="19.7" lengthAdjust="spacingAndGlyphs">S1</text>
<text x="1836.4" y="2875.9" text-anchor="middle" textLength="29.7" lengthAdjust="spacingAndGlyphs">SW</text>
<text x="1904.6" y="2875.9" text-anchor="middle" textLength="13.8" lengthAdjust="spacingAndGlyphs">O</text>
<text x="1665.6" y="2892.6" textLength="46.8" lengthAdjust="spacingAndGlyphs">R102</text>
<text x="1767.3" y="2892.6" text-anchor="middle" textLength="42" lengthAdjust="spacingAndGlyphs">Tol 1</text>
<text x="1836.4" y="2892.6" text-anchor="middle" textLength="10" lengthAdjust="spacingAndGlyphs">S</text>
<text x="1904.6" y="2892.6" text-anchor="middle" textLength="13.8" lengthAdjust="spacingAndGlyphs">O</text>
<text x="1665.6" y="2909.4" textLength="46.8" lengthAdjust="spacingAndGlyphs">R199</text>
<text x="1767.3" y="2909.4" text-anchor="middle" textLength="42" lengthAdjust="spacingAndGlyphs">Tol 1</text>
<text x="1836.4" y="2909.4" text-anchor="middle" textLength="10" lengthAdjust="spacingAndGlyphs">S</text>
<text x="1904.6" y="2909.4" text-anchor="middle" textLength="13.8" lengthAdjust="spacingAndGlyphs">O</text>
<text x="1665.6" y="2926.2" textLength="46.8" lengthAdjust="spacingAndGlyphs">R107</text>
<text x="1767.3" y="2926.2" text-anchor="middle" textLength="19.7" lengthAdjust="spacingAndGlyphs">S1</text>
<text x="1836.4" y="2926.2" text-anchor="middle" textLength="10" lengthAdjust="spacingAndGlyphs">S</text>
<text x="1904.6" y="2926.2" text-anchor="middle" textLength="13.8" lengthAdjust="spacingAndGlyphs">O</text>
<text x="1665.6" y="2942.9" textLength="46.8" lengthAdjust="spacingAndGlyphs">R106</text>
<text x="1767.3" y="2942.9" text-anchor="middle" textLength="19.7" lengthAdjust="spacingAndGlyphs">S1</text>
<text x="1836.4" y="2942.9" text-anchor="middle" textLength="10" lengthAdjust="spacingAndGlyphs">S</text>
<text x="1904.6" y="2942.9" text-anchor="middle" textLength="13.8" lengthAdjust="spacingAndGlyphs">O</text>
<text x="1665.6" y="2959.7" textLength="46.8" lengthAdjust="spacingAndGlyphs">R108</text>
<text x="1767.3" y="2959.7" text-anchor="middle" textLength="19.7" lengthAdjust="spacingAndGlyphs">S1</text>
<text x="1836.4" y="2959.7" text-anchor="middle" textLength="10" lengthAdjust="spacingAndGlyphs">S</text>
<text x="1904.6" y="2959.7" text-anchor="middle" textLength="13.8" lengthAdjust="spacingAndGlyphs">O</text>
<text x="1665.6" y="2976.4" textLength="46.8" lengthAdjust="spacingAndGlyphs">R090</text>
<text x="1767.3" y="2976.4" text-anchor="middle" textLength="43" lengthAdjust="spacingAndGlyphs">Tol 2</text>
<text x="1836.4" y="2976.4" text-anchor="middle" textLength="29.7" lengthAdjust="spacingAndGlyphs">SW</text>
<text x="1904.6" y="2976.4" text-anchor="middle" textLength="13.8" lengthAdjust="spacingAndGlyphs">O</text>
<text x="1665.6" y="2993.2" textLength="46.8" lengthAdjust="spacingAndGlyphs">R012</text>
<text x="1836.4" y="2993.2" text-anchor="middle" textLength="10" lengthAdjust="spacingAndGlyphs">S</text>
<text x="1904.6" y="2993.2" text-anchor="middle" textLength="13.8" lengthAdjust="spacingAndGlyphs">O</text>
<text x="1665.6" y="3009.9" textLength="46.8" lengthAdjust="spacingAndGlyphs">R030</text>
<text x="1836.4" y="3009.9" text-anchor="middle" textLength="29.7" lengthAdjust="spacingAndGlyphs">SW</text>
<text x="1904.6" y="3009.9" text-anchor="middle" textLength="13.8" lengthAdjust="spacingAndGlyphs">O</text>
<text x="1665.6" y="3026.7" textLength="46.8" lengthAdjust="spacingAndGlyphs">R049</text>
<text x="1836.4" y="3026.7" text-anchor="middle" textLength="10" lengthAdjust="spacingAndGlyphs">S</text>
<text x="1904.6" y="3026.7" text-anchor="middle" textLength="13.8" lengthAdjust="spacingAndGlyphs">O</text>
<text x="1665.6" y="3043.5" textLength="46.8" lengthAdjust="spacingAndGlyphs">R007</text>
<text x="1767.3" y="3043.5" text-anchor="middle" textLength="19.7" lengthAdjust="spacingAndGlyphs">S1</text>
<text x="1836.4" y="3043.5" text-anchor="middle" textLength="10" lengthAdjust="spacingAndGlyphs">S</text>
<text x="1904.6" y="3043.5" text-anchor="middle" textLength="13.8" lengthAdjust="spacingAndGlyphs">O</text>
<text x="1665.6" y="3060.2" textLength="46.8" lengthAdjust="spacingAndGlyphs">R003</text>
<text x="1836.4" y="3060.2" text-anchor="middle" textLength="10" lengthAdjust="spacingAndGlyphs">S</text>
<text x="1904.6" y="3060.2" text-anchor="middle" textLength="13.8" lengthAdjust="spacingAndGlyphs">O</text>
<text x="1665.6" y="3077.0" textLength="46.8" lengthAdjust="spacingAndGlyphs">R114</text>
<text x="1767.3" y="3077.0" text-anchor="middle" textLength="42" lengthAdjust="spacingAndGlyphs">Tol 1</text>
<text x="1836.4" y="3077.0" text-anchor="middle" textLength="29.7" lengthAdjust="spacingAndGlyphs">SW</text>
<text x="1904.6" y="3077.0" text-anchor="middle" textLength="13.8" lengthAdjust="spacingAndGlyphs">O</text>
<text x="1665.6" y="3093.7" textLength="46.8" lengthAdjust="spacingAndGlyphs">R101</text>
<text x="1767.3" y="3093.7" text-anchor="middle" textLength="43" lengthAdjust="spacingAndGlyphs">Tol 2</text>
<text x="1836.4" y="3093.7" text-anchor="middle" textLength="10" lengthAdjust="spacingAndGlyphs">S</text>
<text x="1904.6" y="3093.7" text-anchor="middle" textLength="13.8" lengthAdjust="spacingAndGlyphs">O</text>
<text x="1665.6" y="3110.5" textLength="46.8" lengthAdjust="spacingAndGlyphs">R062</text>
<text x="1836.4" y="3110.5" text-anchor="middle" textLength="10" lengthAdjust="spacingAndGlyphs">S</text>
<text x="1904.6" y="3110.5" text-anchor="middle" textLength="13.8" lengthAdjust="spacingAndGlyphs">O</text>
<text x="1665.6" y="3127.2" textLength="46.8" lengthAdjust="spacingAndGlyphs">R162</text>
<text x="1836.4" y="3127.2" text-anchor="middle" textLength="10" lengthAdjust="spacingAndGlyphs">S</text>
<text x="1904.6" y="3127.2" text-anchor="middle" textLength="13.8" lengthAdjust="spacingAndGlyphs">O</text>
<text x="1665.6" y="3144.0" textLength="46.8" lengthAdjust="spacingAndGlyphs">R186</text>
<text x="1767.3" y="3144.0" text-anchor="middle" textLength="42" lengthAdjust="spacingAndGlyphs">Tol 1</text>
<text x="1836.4" y="3144.0" text-anchor="middle" textLength="10" lengthAdjust="spacingAndGlyphs">S</text>
<text x="1904.6" y="3144.0" text-anchor="middle" textLength="13.8" lengthAdjust="spacingAndGlyphs">O</text>
<text x="1665.6" y="3160.8" textLength="46.8" lengthAdjust="spacingAndGlyphs">R157</text>
<text x="1767.3" y="3160.8" text-anchor="middle" textLength="19.7" lengthAdjust="spacingAndGlyphs">S1</text>
<text x="1836.4" y="3160.8" text-anchor="middle" textLength="10" lengthAdjust="spacingAndGlyphs">S</text>
<text x="1904.6" y="3160.8" text-anchor="middle" textLength="13.8" lengthAdjust="spacingAndGlyphs">O</text>
<text x="1665.6" y="3177.5" textLength="46.8" lengthAdjust="spacingAndGlyphs">R197</text>
<text x="1836.4" y="3177.5" text-anchor="middle" textLength="10" lengthAdjust="spacingAndGlyphs">S</text>
<text x="1904.6" y="3177.5" text-anchor="middle" textLength="13.8" lengthAdjust="spacingAndGlyphs">O</text>
<text x="1665.6" y="3194.3" textLength="46.8" lengthAdjust="spacingAndGlyphs">R209</text>
<text x="1767.3" y="3194.3" text-anchor="middle" textLength="19.7" lengthAdjust="spacingAndGlyphs">S1</text>
<text x="1836.4" y="3194.3" text-anchor="middle" textLength="10" lengthAdjust="spacingAndGlyphs">S</text>
<text x="1904.6" y="3194.3" text-anchor="middle" textLength="13.8" lengthAdjust="spacingAndGlyphs">O</text>
<text x="1665.6" y="3211.0" textLength="46.8" lengthAdjust="spacingAndGlyphs">R200</text>
<text x="1767.3" y="3211.0" text-anchor="middle" textLength="19.7" lengthAdjust="spacingAndGlyphs">S1</text>
<text x="1836.4" y="3211.0" text-anchor="middle" textLength="10" lengthAdjust="spacingAndGlyphs">S</text>
<text x="1904.6" y="3211.0" text-anchor="middle" textLength="13.8" lengthAdjust="spacingAndGlyphs">O</text>
<text x="1665.6" y="3227.8" textLength="46.8" lengthAdjust="spacingAndGlyphs">R001</text>
<text x="1767.3" y="3227.8" text-anchor="middle" textLength="19.7" lengthAdjust="spacingAndGlyphs">S1</text>
<text x="1836.4" y="3227.8" text-anchor="middle" textLength="10" lengthAdjust="spacingAndGlyphs">S</text>
<text x="1904.6" y="3227.8" text-anchor="middle" textLength="13.8" lengthAdjust="spacingAndGlyphs">O</text>
<text x="1665.6" y="3244.5" textLength="46.8" lengthAdjust="spacingAndGlyphs">R113</text>
<text x="1767.3" y="3244.5" text-anchor="middle" textLength="19.7" lengthAdjust="spacingAndGlyphs">S1</text>
<text x="1836.4" y="3244.5" text-anchor="middle" textLength="10" lengthAdjust="spacingAndGlyphs">S</text>
<text x="1904.6" y="3244.5" text-anchor="middle" textLength="13.8" lengthAdjust="spacingAndGlyphs">O</text>
<text x="1665.6" y="3261.3" textLength="46.8" lengthAdjust="spacingAndGlyphs">R010</text>
<text x="1767.3" y="3261.3" text-anchor="middle" textLength="19.7" lengthAdjust="spacingAndGlyphs">S1</text>
<text x="1836.4" y="3261.3" text-anchor="middle" textLength="10" lengthAdjust="spacingAndGlyphs">S</text>
<text x="1904.6" y="3261.3" text-anchor="middle" textLength="13.8" lengthAdjust="spacingAndGlyphs">O</text>
<text x="1665.6" y="3278.1" textLength="46.8" lengthAdjust="spacingAndGlyphs">R146</text>
<text x="1767.3" y="3278.1" text-anchor="middle" textLength="42" lengthAdjust="spacingAndGlyphs">Tol 1</text>
<text x="1836.4" y="3278.1" text-anchor="middle" textLength="10" lengthAdjust="spacingAndGlyphs">S</text>
<text x="1904.6" y="3278.1" text-anchor="middle" textLength="13.8" lengthAdjust="spacingAndGlyphs">O</text>
<text x="1665.6" y="3294.8" textLength="46.8" lengthAdjust="spacingAndGlyphs">R082</text>
<text x="1767.3" y="3294.8" text-anchor="middle" textLength="19.7" lengthAdjust="spacingAndGlyphs">S1</text>
<text x="1836.4" y="3294.8" text-anchor="middle" textLength="10" lengthAdjust="spacingAndGlyphs">S</text>
<text x="1904.6" y="3294.8" text-anchor="middle" textLength="13.8" lengthAdjust="spacingAndGlyphs">O</text>
<text x="1665.6" y="3311.6" textLength="46.8" lengthAdjust="spacingAndGlyphs">R063</text>
<text x="1767.3" y="3311.6" text-anchor="middle" textLength="19.7" lengthAdjust="spacingAndGlyphs">S1</text>
<text x="1836.4" y="3311.6" text-anchor="middle" textLength="29.7" lengthAdjust="spacingAndGlyphs">SW</text>
<text x="1904.6" y="3311.6" text-anchor="middle" textLength="13.8" lengthAdjust="spacingAndGlyphs">O</text>
<text x="1665.6" y="3328.3" textLength="46.8" lengthAdjust="spacingAndGlyphs">R155</text>
<text x="1767.3" y="3328.3" text-anchor="middle" textLength="43" lengthAdjust="spacingAndGlyphs">Tol 2</text>
<text x="1836.4" y="3328.3" text-anchor="middle" textLength="10" lengthAdjust="spacingAndGlyphs">S</text>
<text x="1904.6" y="3328.3" text-anchor="middle" textLength="13.8" lengthAdjust="spacingAndGlyphs">O</text>
<text x="1665.6" y="3345.1" textLength="46.8" lengthAdjust="spacingAndGlyphs">R094</text>
<text x="1767.3" y="3345.1" text-anchor="middle" textLength="42" lengthAdjust="spacingAndGlyphs">Tol 1</text>
<text x="1836.4" y="3345.1" text-anchor="middle" textLength="16.4" lengthAdjust="spacingAndGlyphs">W</text>
<text x="1904.6" y="3345.1" text-anchor="middle" textLength="10" lengthAdjust="spacingAndGlyphs">R</text>
<text x="1665.6" y="3361.8" textLength="46.8" lengthAdjust="spacingAndGlyphs">R139</text>
<text x="1767.3" y="3361.8" text-anchor="middle" textLength="19.7" lengthAdjust="spacingAndGlyphs">S1</text>
<text x="1836.4" y="3361.8" text-anchor="middle" textLength="10" lengthAdjust="spacingAndGlyphs">S</text>
<text x="1904.6" y="3361.8" text-anchor="middle" textLength="13.8" lengthAdjust="spacingAndGlyphs">O</text>
<text x="1665.6" y="3378.6" textLength="46.8" lengthAdjust="spacingAndGlyphs">R080</text>
<text x="1767.3" y="3378.6" text-anchor="middle" textLength="43" lengthAdjust="spacingAndGlyphs">Tol 2</text>
<text x="1836.4" y="3378.6" text-anchor="middle" textLength="29.7" lengthAdjust="spacingAndGlyphs">SW</text>
<text x="1904.6" y="3378.6" text-anchor="middle" textLength="13.8" lengthAdjust="spacingAndGlyphs">O</text>
<text x="1665.6" y="3395.4" textLength="46.8" lengthAdjust="spacingAndGlyphs">R053</text>
<text x="1767.3" y="3395.4" text-anchor="middle" textLength="20.5" lengthAdjust="spacingAndGlyphs">S2</text>
<text x="1836.4" y="3395.4" text-anchor="middle" textLength="29.7" lengthAdjust="spacingAndGlyphs">SW</text>
<text x="1904.6" y="3395.4" text-anchor="middle" textLength="13.8" lengthAdjust="spacingAndGlyphs">O</text>
<text x="1665.6" y="3412.1" textLength="46.8" lengthAdjust="spacingAndGlyphs">R128</text>
<text x="1767.3" y="3412.1" text-anchor="middle" textLength="20.5" lengthAdjust="spacingAndGlyphs">S2</text>
<text x="1836.4" y="3412.1" text-anchor="middle" textLength="10" lengthAdjust="spacingAndGlyphs">S</text>
<text x="1904.6" y="3412.1" text-anchor="middle" textLength="13.8" lengthAdjust="spacingAndGlyphs">O</text>
<text x="1665.6" y="3428.9" textLength="46.8" lengthAdjust="spacingAndGlyphs">R055</text>
<text x="1767.3" y="3428.9" text-anchor="middle" textLength="19.7" lengthAdjust="spacingAndGlyphs">S1</text>
<text x="1836.4" y="3428.9" text-anchor="middle" textLength="10" lengthAdjust="spacingAndGlyphs">S</text>
<text x="1904.6" y="3428.9" text-anchor="middle" textLength="13.8" lengthAdjust="spacingAndGlyphs">O</text>
<text x="1665.6" y="3445.6" textLength="46.8" lengthAdjust="spacingAndGlyphs">R163</text>
<text x="1836.4" y="3445.6" text-anchor="middle" textLength="29.7" lengthAdjust="spacingAndGlyphs">SW</text>
<text x="1904.6" y="3445.6" text-anchor="middle" textLength="13.8" lengthAdjust="spacingAndGlyphs">O</text>
<text x="1665.6" y="3462.4" textLength="46.8" lengthAdjust="spacingAndGlyphs">R105</text>
<text x="1767.3" y="3462.4" text-anchor="middle" textLength="20.5" lengthAdjust="spacingAndGlyphs">S2</text>
<text x="1836.4" y="3462.4" text-anchor="middle" textLength="16.4" lengthAdjust="spacingAndGlyphs">W</text>
<text x="1904.6" y="3462.4" text-anchor="middle" textLength="10" lengthAdjust="spacingAndGlyphs">R</text>
<text x="1665.6" y="3479.1" textLength="46.8" lengthAdjust="spacingAndGlyphs">R104</text>
<text x="1767.3" y="3479.1" text-anchor="middle" textLength="20.5" lengthAdjust="spacingAndGlyphs">S2</text>
<text x="1836.4" y="3479.1" text-anchor="middle" textLength="16.4" lengthAdjust="spacingAndGlyphs">W</text>
<text x="1904.6" y="3479.1" text-anchor="middle" textLength="10" lengthAdjust="spacingAndGlyphs">R</text>
<text x="1665.6" y="3495.9" textLength="46.8" lengthAdjust="spacingAndGlyphs">R148</text>
<text x="1836.4" y="3495.9" text-anchor="middle" textLength="16.4" lengthAdjust="spacingAndGlyphs">W</text>
<text x="1904.6" y="3495.9" text-anchor="middle" textLength="10" lengthAdjust="spacingAndGlyphs">R</text>
<text x="1665.6" y="3512.7" textLength="46.8" lengthAdjust="spacingAndGlyphs">R054</text>
<text x="1767.3" y="3512.7" text-anchor="middle" textLength="20.5" lengthAdjust="spacingAndGlyphs">S2</text>
<text x="1836.4" y="3512.7" text-anchor="middle" textLength="29.7" lengthAdjust="spacingAndGlyphs">SW</text>
<text x="1904.6" y="3512.7" text-anchor="middle" textLength="13.8" lengthAdjust="spacingAndGlyphs">O</text>
<text x="1665.6" y="3529.4" textLength="46.8" lengthAdjust="spacingAndGlyphs">R154</text>
<text x="1767.3" y="3529.4" text-anchor="middle" textLength="20.5" lengthAdjust="spacingAndGlyphs">S2</text>
<text x="1836.4" y="3529.4" text-anchor="middle" textLength="29.7" lengthAdjust="spacingAndGlyphs">SW</text>
<text x="1904.6" y="3529.4" text-anchor="middle" textLength="7.6" lengthAdjust="spacingAndGlyphs">L</text>
<text x="1665.6" y="3546.2" textLength="46.8" lengthAdjust="spacingAndGlyphs">R153</text>
<text x="1836.4" y="3546.2" text-anchor="middle" textLength="29.7" lengthAdjust="spacingAndGlyphs">SW</text>
<text x="1904.6" y="3546.2" text-anchor="middle" textLength="13.8" lengthAdjust="spacingAndGlyphs">O</text>
<text x="1665.6" y="3562.9" textLength="46.8" lengthAdjust="spacingAndGlyphs">R050</text>
<text x="1767.3" y="3562.9" text-anchor="middle" textLength="19.7" lengthAdjust="spacingAndGlyphs">S1</text>
<text x="1836.4" y="3562.9" text-anchor="middle" textLength="10" lengthAdjust="spacingAndGlyphs">S</text>
<text x="1904.6" y="3562.9" text-anchor="middle" textLength="13.8" lengthAdjust="spacingAndGlyphs">O</text></g>
</svg></body></html>
